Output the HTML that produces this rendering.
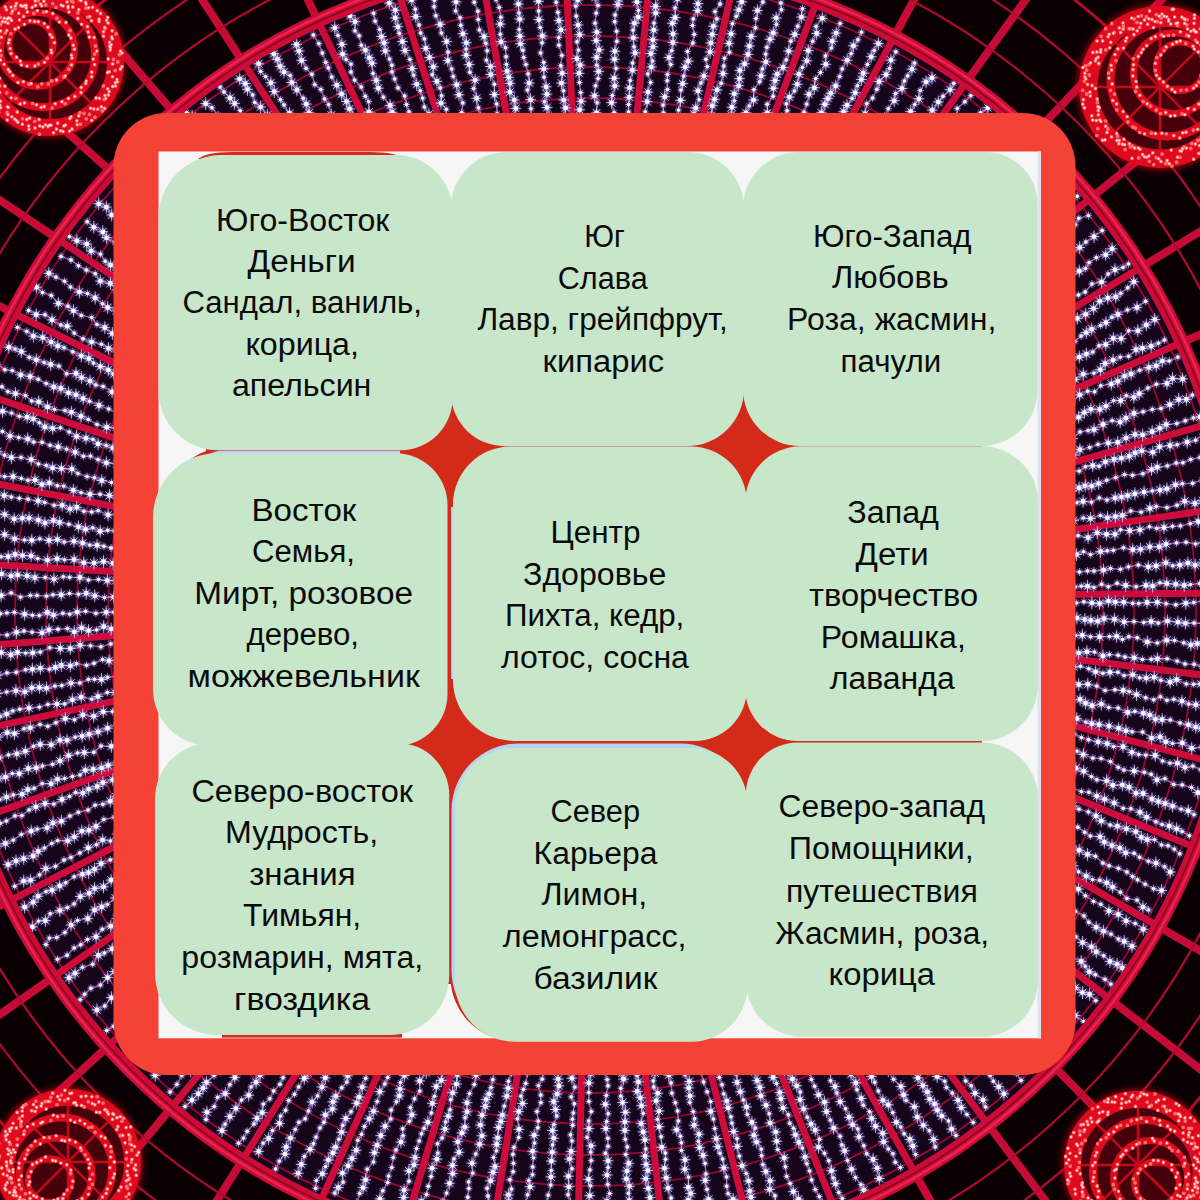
<!DOCTYPE html>
<html lang="ru"><head><meta charset="utf-8"><title>Ароматы по сторонам света</title>
<style>html,body{margin:0;padding:0;background:#08000a;width:1200px;height:1200px;overflow:hidden}svg{display:block}text{font-family:"Liberation Sans",sans-serif;font-size:31px;fill:#0a0a0a}</style></head><body>
<svg width="1200" height="1200" viewBox="0 0 1200 1200">
<defs>
<filter id="g4" x="-5%" y="-5%" width="110%" height="110%"><feGaussianBlur stdDeviation="3"/></filter>
<clipPath id="disc"><circle cx="590" cy="611" r="650"/></clipPath>
<radialGradient id="halo"><stop offset="0" stop-color="#d4d2ff" stop-opacity=".85"/><stop offset=".4" stop-color="#9088f0" stop-opacity=".38"/><stop offset="1" stop-color="#6a58d8" stop-opacity="0"/></radialGradient>
<marker id="sp" markerUnits="userSpaceOnUse" markerWidth="20" markerHeight="20" refX="10" refY="10" viewBox="0 0 20 20" overflow="visible"><circle cx="10" cy="10" r="6.5" fill="url(#halo)"/><path d="M10 3.5v13M4.5 10h11M6 6l8 8M14 6l-8 8" stroke="#dcdaff" stroke-width=".9" stroke-opacity=".8"/><circle cx="10" cy="10" r="2.3" fill="#fff"/></marker>
<marker id="sq" markerUnits="userSpaceOnUse" markerWidth="20" markerHeight="20" refX="10" refY="10" viewBox="0 0 20 20" overflow="visible"><circle cx="10" cy="10" r="4.6" fill="url(#halo)"/><path d="M10 6v8M6.5 10h7M7.4 7.4l5.2 5.2M12.6 7.4l-5.2 5.2" stroke="#d6d4ff" stroke-width=".8" stroke-opacity=".7"/><circle cx="10" cy="10" r="1.7" fill="#fbf8ff"/></marker>
</defs>
<rect width="1200" height="1200" fill="#0a0004"/>
<path d="M1153 593.6L1583 589.5M1147.3 519L1572.9 457.6M1131.7 445.9L1545.3 328.3M1106.4 375.4L1500.7 203.8M1072.1 309L1439.9 86.3M1029.1 247.7L1364 -22M978.4 192.7L1274.4 -119.2M920.8 145L1172.6 -203.6M857.4 105.3L1060.4 -273.7M789.2 74.5L939.9 -328.2M717.6 53L813.2 -366.2M643.7 41.3L682.6 -386.9M568.9 39.5L550.4 -390.1M494.6 47.7L419 -375.6M422 65.8L290.6 -343.7M352.4 93.3L167.7 -295M287.2 129.9L52.3 -230.3M227.4 174.8L-53.4 -150.8M174.1 227.4L-147.6 -58M128.3 286.5L-228.5 46.6M90.8 351.2L-294.8 161M62.2 420.4L-345.3 283.2M43.2 492.7L-379 411.1M33.9 567L-395.4 542.4M34.6 641.8L-394.1 674.6M45.3 715.8L-375.2 805.5M65.8 787.8L-339.1 932.7M95.6 856.4L-286.3 1054M134.4 920.3L-217.8 1167.1M181.3 978.6L-134.8 1270.1M235.6 1030.1L-38.9 1361.1M296.2 1073.9L68.3 1438.5M362.2 1109.2L184.9 1501M432.2 1135.4L308.8 1547.3M505.2 1152.1L437.7 1576.7M579.7 1158.8L569.4 1588.7M654.4 1155.6L701.5 1583M728 1142.5L831.7 1559.8M799.3 1119.6L957.7 1519.4M866.8 1087.5L1077.1 1462.6M929.5 1046.6L1187.9 1390.3M986.2 997.8L1288 1304M1035.8 941.8L1375.8 1205.1M1077.5 879.7L1449.6 1095.3M1110.6 812.7L1508.1 976.7M1134.5 741.8L1550.3 851.4M1148.7 668.3L1575.4 721.5" stroke="#c60c36" stroke-width="8" fill="none"/>
<circle cx="590" cy="611" r="690" fill="none" stroke="#b00a2e" stroke-width="2.2"/>
<circle cx="590" cy="611" r="732" fill="none" stroke="#b00a2e" stroke-width="2.2"/>
<circle cx="590" cy="611" r="780" fill="none" stroke="#b00a2e" stroke-width="3"/>
<circle cx="590" cy="611" r="650" fill="#15041a"/>
<g clip-path="url(#disc)">
<circle cx="590" cy="611" r="482" fill="none" stroke="#98082e" stroke-width="1.8"/>
<circle cx="590" cy="611" r="513" fill="none" stroke="#98082e" stroke-width="1.8"/>
<circle cx="590" cy="611" r="544" fill="none" stroke="#98082e" stroke-width="1.8"/>
<circle cx="590" cy="611" r="575" fill="none" stroke="#98082e" stroke-width="1.8"/>
<circle cx="590" cy="611" r="606" fill="none" stroke="#98082e" stroke-width="1.8"/>
<circle cx="590" cy="611" r="637" fill="none" stroke="#98082e" stroke-width="1.8"/>
<path d="M1033 594.8L1273 592.5M1028.5 536.2L1266 501.9M1016.2 478.7L1247.1 413.1M996.4 423.3L1216.5 327.5M969.4 371.1L1174.7 246.9M935.7 323L1122.6 172.5M895.8 279.8L1061 105.7M850.6 242.3L991.1 47.7M800.7 211.1L914.1 -0.4M747.2 186.9L831.3 -37.9M690.9 170L744.3 -64M632.8 160.8L654.6 -78.2M574.1 159.4L563.8 -80.4M515.7 165.9L473.5 -70.4M458.6 180L385.3 -48.5M404 201.7L300.9 -15M352.7 230.4L221.6 29.4M305.7 265.7L149 84M263.9 307L84.3 147.7M227.9 353.5L28.7 219.6M198.4 404.3L-16.8 298.2M176 458.7L-51.5 382.1M161 515.5L-74.6 470M153.7 573.8L-85.9 560.1M154.3 632.6L-85 650.9M162.7 690.8L-72 740.8M178.8 747.3L-47.2 828.2M202.2 801.2L-10.9 911.5M232.7 851.5L36.1 989.2M269.5 897.3L93.1 1060M312.2 937.7L159 1122.5M359.8 972.1L232.6 1175.7M411.6 999.9L312.7 1218.5M466.7 1020.5L397.8 1250.4M524 1033.6L486.3 1270.6M582.5 1038.9L576.8 1278.8M641.2 1036.3L667.6 1274.9M699.1 1026L757 1258.9M755.1 1008.1L843.5 1231.2M808.2 982.8L925.5 1192.2M857.4 950.7L1001.6 1142.6M901.9 912.3L1070.4 1083.2M940.9 868.4L1130.7 1015.3M973.7 819.6L1181.4 939.9M999.7 766.9L1221.6 858.4M1018.5 711.2L1250.5 772.3M1029.6 653.5L1267.8 683.2" stroke="#cc0c3a" stroke-width="7" fill="none"/>
<path d="M1075.1 586.9L1081.3 586.1L1087.5 586.3L1093.9 587.6L1101.7 584.2L1108.3 586.7L1117.1 583.2L1125.7 585.4L1136.1 586.7L1146 585.4L1152.6 586L1159.9 582.7L1166.8 583.5L1175.7 584.2L1184.2 585.4L1190.4 584.6L1199.5 583.4L1206.9 582.5M1070.4 571L1079.5 572L1087.5 570.9L1094 571L1103.5 570.1L1110.5 568.5L1120.5 569.3L1128.4 566.8L1138.3 565L1148.3 566.8L1156.1 565.9L1165.9 562.7L1172.8 565.8L1179.8 565.1L1187.9 563L1195.2 565.2L1203 563.1M1070.2 556.2L1076.5 554.5L1083.5 551.7L1090.5 554.6L1100.6 551.5L1107.2 550.8L1113.3 550.3L1123.5 547.8L1132.8 549.6L1140.5 549.3L1149.8 546.8L1159.3 546.8L1166.1 544.1L1176.5 542.9L1186.1 542.2L1195.6 543.9L1203.8 542.6M1071.9 539.7L1078.1 535.5L1088.1 537.6L1097.3 532.7L1106.5 534.3L1115 534.2L1120.6 529.8L1129.7 530.6L1139.9 529.7L1149.5 526.7L1156.7 528.4L1164 527.5L1172.5 526.3L1180.4 525.9L1190.3 523.6L1198.2 521.6L1208.3 521.1M1073.5 520.6L1083.2 517.9L1090.5 518.5L1100.4 515.6L1107.5 517.7L1115.4 516.6L1122.4 515.5L1130.8 511L1141.1 512.1L1149.9 508.4L1156.3 506.4L1167 507.6L1177 505.2L1184.7 501.3L1194.9 503.4L1202.5 500.6M1070.7 504.1L1077 502.6L1083.1 501.4L1091.5 502.1L1099.3 497.9L1107 500L1115.2 497.9L1121.6 497L1127.7 495.6L1134.9 493.7L1144.1 492L1152.3 490.9L1159.9 490.1L1166.9 488.8L1175.5 484.7L1182.3 483.7L1192.6 483.3L1201.9 480L1209.6 476.7M1073 488.2L1079.1 487.9L1085.2 485.8L1091.6 486.1L1098.6 483.5L1106.7 480.3L1115.7 477.6L1124.5 474.6L1132.6 475.2L1142.9 473.7L1151.5 469.5L1157.3 467.2L1167.3 465.9L1176.2 463L1182.9 462.7L1190.7 459.5L1200 457.4L1208.4 455.2M1072.5 470.7L1079.2 471.1L1085.4 466.8L1092.7 465.6L1099.1 466.2L1105.4 461.8L1114.2 459.4L1121.5 458.2L1129.3 456.3L1135.2 452.8L1141.7 450.7L1152.7 452.2L1159.6 446.7L1170 445.6L1177.2 444.7L1187.2 442.1L1195.6 440.2L1202.7 434.6M1073.6 455.1L1079.9 449.6L1089.7 447.4L1098 444.4L1108.3 442.9L1117.7 442.4L1126.1 438L1134.9 434.5L1142.6 434.9L1152.2 431.6L1159.7 428.3L1166.3 424.5L1176.8 423.5L1185.3 420.8L1193.4 417.9L1200.1 416.9M1072.5 438.5L1080 431.9L1088.1 430.6L1094.1 429.5L1103.1 424.4L1112.2 420.6L1120.2 421.9L1126 418.1L1134 413.4L1143.1 411.7L1152.3 409.4L1161 408.4L1169.7 404.6L1178.7 399.6L1186.4 399.4L1192.5 395M1069.4 420.3L1078.6 417.2L1084.4 412.5L1090.9 409.2L1099.8 409.4L1106 406L1113.6 400.6L1120.7 400.6L1126.3 395.7L1133.9 397.2L1139.3 393.6L1147.9 388L1156.4 384.2L1167 383.4L1172.5 378.5L1182.6 378.9M1072.4 402.1L1079.6 394.8L1087.7 391.2L1094.6 391.8L1100.8 385.7L1111.3 384.1L1117.8 381.2L1124.6 376L1131.1 373.9L1139.7 370.2L1148.8 367.5L1156.2 365.8L1162.4 361L1169.3 360.9L1177.9 357.1M1068.3 380.2L1075.1 379.5L1083.3 374.1L1093.9 373.1L1100.4 369.7L1105.1 363.5L1113.1 360.1L1120.2 357.1L1128.6 356.2L1136 349.6L1142.5 348.3L1151.2 346.2L1158.3 343.3L1164.4 340M1073 358.7L1079.3 357L1086.4 354L1092.8 351.9L1099 345.7L1105.7 344.5L1113.4 338.4L1121.2 338.6L1128.7 330.7L1137.8 330.7L1146.3 324.9L1154.8 319.5M1067.9 345L1074.9 341.4L1081.1 336L1086.3 332.5L1091.7 329.1L1100.5 325.5L1106 322.6L1111.9 317.2L1117.9 314.4L1127.4 309.9L1137 307.4L1145.6 301.3M1069.1 320.2L1077.3 318.4L1085.7 314.2L1093.6 308.5L1099.7 301.3L1107.8 298.1L1115.7 296.9L1120.7 293.3L1127.7 287.8L1133.8 281.8M1071.4 296.7L1078.4 295L1085.2 292L1091.9 284L1101.6 282L1108.1 274L1115 269.7L1123 267.4L1128.5 263.9M1071.5 277.6L1079.3 271.1L1085.6 268.5L1089.1 262.6L1096.4 257.6L1105.7 254.7L1112.1 248.8M1071.1 252L1079.7 247.5L1085.9 242L1094 236.6L1102.2 230.5M1069.4 228.2L1075.2 224.7L1078.8 218.3L1088.5 215.6M1069.1 201.4L1077.2 196.2M974.6 120.4L980.5 112.8L987.9 107.7M956.9 115.9L957.2 108.4L964.9 101.8L970.8 95.6M931 117.4L932.3 110.2L938.4 102L943 96.2L950.1 89.7L953.8 83.2M903.1 117.5L910.6 111.6L914.7 104.6L918.9 98.8L920.2 90.5L926.1 81.8L932 77.9M884.8 118.4L888.3 108.7L894.2 100.7L895.6 93.5L902 88.5L904.4 80.9L907.7 75.9L911.9 69.1L914.5 63M865.1 113.8L866.8 103.7L872.6 98L876.9 89.3L879.1 81.6L886.1 74.6L889.5 68.4L890.9 60.1L895.9 51.8M838.5 120.7L843.6 111.7L847 105.3L852.1 98.5L855.2 92.7L857.5 85.7L861.4 79.5L863.2 73.2L867.4 64.4L871.2 56.7L874.1 50.4L878.4 43.6M818.1 120.2L821.4 112.8L824.8 104.3L827.8 98.4L830.8 93.2L835.6 85.9L839.7 76.4L842.2 68.9L847.2 60.2L851.1 53.6L853.4 45.8L857.9 39.8L861.5 32.1M802.1 119.8L804 112.2L806.7 104.1L809 94.3L814.4 87.7L815.7 78.6L820.5 72.5L825.8 64.3L825.5 56L831.3 47.9L832.3 41.3L836.2 33.1L840.1 23.4M781.3 118.8L787.1 110.7L786.4 103.9L789.4 97.1L794.4 90.9L797.3 84.3L799 74.2L802.4 67.4L806.8 60.8L808.3 50.6L812.7 41.3L816.7 33.4L816.1 26.5L822.3 18.3M767.4 112.9L767.2 104.3L773.2 96.2L773.4 88.2L775 80.6L777.3 74.1L783.1 67.4L786.2 59.9L788.7 51.1L790.8 41.2L794.7 34.4L797.8 26.3L801.5 17L802.5 8.6M744.5 119.8L746 112.8L749.2 105.9L753.5 100L753.9 89.6L759.6 81.7L761 75.7L762.5 68.9L765.9 61.9L765.7 54.1L766.9 47.3L770 39.3L773.3 32.9L776.4 24.4L776.2 18L781.4 9.7L780.9 3M731.3 115L731.9 107.2L734.2 100.7L734.3 93.8L738.7 85.7L739.5 78.6L739.9 70.4L744.6 63.8L748 54.4L749.5 46L751.2 36.4L755.4 27.8L756 18.6L757.5 10.6L762.9 2L763.8 -5.3M711.2 115.5L712.3 105.7L714.6 99.3L717.1 89.9L721.2 83.2L723 73.6L723.8 66L724.4 58.2L729.5 52.2L729 43.3L731 33.8L732.4 23.7L736.3 16.2L738.7 9.9L741.7 1.8L743.5 -7.1M693.8 114L695.7 107.9L699.1 99.7L698 90.8L701 83L703.9 76.1L707.3 66.6L705.9 59.3L710.1 52L710.7 43L712.3 34.5L713.4 26.2L716.9 19L715 11.6L720.1 4L721.5 -5.8M677.6 120.1L678.5 110.1L680.5 100.3L680.9 90.1L682.6 83.6L683.8 76.1L685.1 67.2L688.2 61.1L687.4 51.5L692.9 43L694.2 34.4L692.6 25.5L693.2 19L697.6 10.6L698 3.7L699.1 -6M660.7 118.7L663.4 112.9L663.1 105.1L664.7 96.7L667.4 89.4L667.2 80.7L667.5 74.6L670.8 64.5L669 57.5L671.7 50.6L672.9 42.4L673 33.8L672.4 23.3L675.2 17.5L675.1 7.9L677.5 -1.3L679.9 -9.9M646.6 118.9L645.2 111.9L647.2 101.6L648 92.1L650.6 82.4L647.8 73.9L651.4 67L652.5 61L650.9 53.6L653 46.8L652.8 39.8L653.7 30L654 23.1L655.7 12.9L655.5 6.4L658.6 -3.2L660 -9.7M628.2 120.9L628.6 112L628.6 104.5L629.2 97.3L629.6 87.9L630.2 80.5L632.4 70.3L632.6 63L635.1 52.9L634 46.8L633.4 37.8L633 30.1L634.5 23.2L638.2 17L638.5 10.4L637 2L635.8 -4.9M614.2 112.6L611.5 102.6L612.3 95.5L614.8 85.9L614.2 78.3L616 68.4L614.5 59.2L614.9 51.2L616.9 41.3L616.6 31.3L614.8 21.7L615.1 14.9L618 4.5L619.1 -1.5M598.1 120.5L596.5 112.9L597.2 102.8L594.5 95.8L595.6 85.8L598.1 78.6L598.6 71.4L596.8 65.2L596.6 57.4L599.1 49.8L596.3 40.6L596.8 32.2L595 23.1L596.2 13.1L598 5.4L595.2 -2.5M579.5 117.2L579.6 109.8L581.1 101.3L580.7 92.6L579.5 82.5L579.1 73.3L580.2 65.1L576.9 58.5L578.4 50.1L577 41.8L579.6 34.6L578.1 25L576.2 16.1L575.8 6.1L577.8 -0.1L575.6 -9.8M563.6 115.7L565.6 107.9L563.7 100L563.5 90.8L561.5 83.1L562.2 73.3L560.8 65.7L561.9 55.4L558.9 45.2L558.7 37.6L560.9 29.9L558.9 20.6L557.9 12.3L556.2 2.3L556.5 -3.8M549.3 114.8L547 107.5L544.4 101.7L546.9 94.2L546.2 86.8L544 77.1L543.8 68.8L543.7 62.5L540.6 52.9L542.1 42.8L542.4 35.9L540.2 27.6L538.9 19.6L538.7 11L538.5 1.3L536 -8.6M530.7 119.1L531 108.7L530.5 99.7L527.4 90L529.3 83L528.2 73.9L525.9 64.4L523.7 57.5L522.9 50.2L520.5 43.7L519.9 36.3L519.2 29.6L519.7 19.1L519 13L518.5 4.1L518 -4.4M513.8 116.1L515.7 108.4L514.3 100L509.9 92.1L510 83.3L508.7 77.3L507.1 71L506.4 64.4L506.1 56.8L505.5 47.8L501.1 41.7L500.3 34.2L500.3 24.1L500.9 17.3L499.2 7.5L496.1 -0.4L495.4 -6.9M497.1 113.7L496.7 103.9L494.4 94.5L494.4 84.2L490.7 74.5L490.6 66.5L486.4 60.1L487.2 50.7L485.8 43.3L484.1 36.6L479.4 29.9L478.2 19.5L477.9 11.2L474.3 2.2L473.7 -7.2M480.4 115.3L478.3 107.8L476.6 98.3L473.7 88.5L475.1 80.1L469.9 72.2L469.2 64.6L466.2 55.3L466.1 49.1L466.4 42.8L462.9 33.7L460.8 25.3L460.1 17.7L455.7 10.9L456.1 1.8L454.8 -4.4M461.7 112.6L462.8 102.9L459 94.8L456.7 84.8L453.2 76.4L451.7 68.9L447.8 60.6L448 52L446.6 41.6L441.4 32.9L440.2 24.4L435.9 15.8L434.1 6.7L434.4 0.3L430 -5.4M446 120.1L446.3 109.3L441 103.1L441.6 95.8L440.2 87.9L436.9 81.4L432.3 74.7L433.4 66.8L429.5 57.5L425.8 48.4L424.4 38.9L420.7 33L419.1 25L415.7 16.6L415.3 9.2L411.6 -0.3M431.2 120L428.9 114.2L424.4 107L422.7 98.1L420.2 90.7L416.7 84.2L413.7 75.1L412.2 68.6L409.9 59.4L405 50.5L402.4 41.5L399.3 33.2L397.9 26.7L395.3 17.9L395.3 10.2L389.3 3.1M412.1 120.7L409 112L406.5 104.5L404.7 96L398 87.9L394.7 78.9L392 71.9L391.9 65.2L389.6 59L385.4 50.9L384.1 42.8L381.4 36.5L379.7 29.4L375.1 21.1L373.6 13.2M393.8 120.5L392.1 112.3L390.1 105.4L383.4 97.2L378.4 88.2L376.3 80.4L373 73.4L372 63.2L369.4 57.8L365.4 50.1L361.3 45.3L359.1 35.8L355 30.8L355.1 21.7L350 15.7M375.3 116.2L368.9 112.1L368.7 101.6L365.3 96.3L361.2 87L354.6 80.1L351 72L351 64.1L346.1 59.6L342.6 54.1L341.9 44.3L338 35.5L334.8 27.9M352.8 117L349.6 108.9L346.5 101.5L341.6 94.1L336.8 85.2L331.8 77L328.3 67.9L325.7 62.3L322.3 53L318.9 43.6L313.3 34.9M331.3 115L328.7 104.6L324.6 98.9L320.9 89.5L314.8 84.6L311.9 74.3L306.1 68.3L301.6 60.4L299.1 51.1L296.5 44.4M315.4 119.6L309.2 112.8L306.3 104.1L303.2 98.2L296.9 89.8L291.7 82.5L290.1 75.4L284 71.9L280.3 66.4L277.4 59.3L273.8 53.7M291.9 120.1L289.5 113.3L284 105L280.5 99.7L274.3 91.6L270.8 82.8L265.6 76.6L260.7 71.5L258.6 63.8M267.4 115.1L260.6 107L254.8 102.4L252.7 94.9L247.5 89.3L245.2 83.5L239.7 79M242.7 119.3L240.2 110.6L234.6 103.4L230 97.9L224 92L220.1 87M218 115L211.9 107.8L205.7 103.6M192.1 116.1L186.6 112.4M118.5 216.5L111.7 215L106.4 207.1L98.7 203.7M114.8 242.3L106.6 237.7L102.8 231.7L93.8 227.3L87.2 221.7M117.3 269.9L110.5 264.9L105.2 261.3L100.5 254.1L91.2 251.1L86.7 244L76.9 240.7L69.2 236.5M117.1 289.8L110.4 283.4L100.4 281.1L95.3 273.7L86.3 270L78.4 265.7L71 260L61 256.4M116.5 310.9L107.7 307.6L102.5 303.7L95.2 297.9L87.4 293.5L79.4 292L70.5 287L64.6 281.3L56 277.1L48.8 273.3M120.2 337.5L112.4 333.5L104.8 327.6L97 324.4L91.7 317.6L81.3 315.4L73.5 310.7L68 306.2L58.4 303.4L51.3 295.4L42.5 292.5L36.5 287.2M120.1 358.2L116.5 351.5L108.5 348.4L101.4 344.3L91.6 342L83 338.8L74.2 333.1L67.3 326.2L60.9 325L52 319.8L45 314.7L36.2 314.6L28.6 310.4M113.8 374L108.3 369.9L100.4 366.5L93.4 363L88.8 358.5L81.3 355.8L72.8 351.8L64 347.7L57.8 345.9L51.1 342L42.7 337.5L33.4 336.1L26.8 331.4L17.4 327.4M118.8 392.5L112.1 391.9L103.1 386.4L95.9 384.9L90 381L81.6 377.5L76 373.4L66.7 373.7L58.9 366.1L50.7 364.4L44.1 362.4L36.3 359.7L29.3 357.3L21.3 351.6L15.1 349L8.8 347.2M117.6 413.4L108.7 408.9L99 405.4L89.6 401.3L83.2 398.6L75.9 394.8L68.5 392.7L60.9 388.4L53.7 386.9L46.2 383.5L38.2 379.3L30.2 376.6L20.7 374.9L12.2 370.6L4.9 369.7L-2 364.4M115 428.1L106.7 427.2L97 424.4L88.3 419.4L81 416.3L71.4 412.3L65 410.4L54.6 409.4L47.5 406.9L38.7 401.8L31.7 400.9L25.5 395.6L15.5 393.6L7.9 391.6L2 386.8L-5.8 385.7M113 447.8L106.2 445.5L98.1 443.9L93 439.4L86 438.3L76.6 436.4L69.2 431.9L60.4 427.8L52.7 428.3L44.8 426.9L39.4 422.8L33.3 418.7L27.1 417.1L19.4 416.3L11.6 413.1L2.6 411.3L-6.8 406.7M116.9 463.7L106.4 462.8L98 459.6L90.5 456.1L83.4 456.2L75.1 452.1L66.7 449.1L58.2 446.9L50.1 445.3L42.1 442.2L33.7 442L27.7 438.9L18.7 437.5L10 436.1L2.4 431.4L-6 431.8M111.5 482.5L101.8 480.5L94.3 477.7L87.1 476.6L77.9 473.4L71.8 469L61.4 468.6L52.6 467.8L46.3 465.5L38.4 463.9L31.2 459.5L21.1 457.4L11.4 457.5L4.6 455.2L-2.4 451.4L-10 452.8M117.7 499.3L109.5 495.5L100.1 494.2L90 494.3L81.1 492.6L73.4 490.3L63.8 486.1L57.3 485.7L49.4 482.9L41.9 484.5L35 479.9L27.9 480.3L21.3 478.4L13.1 476.6L4.7 476.6L-1.4 475.7L-7.3 470.5M117.6 513.6L108.1 514.9L98.2 510.6L91.7 511.9L83.9 511.3L76.7 507.3L70 508.9L62.2 505.3L54.1 505.3L44.7 502.4L38.1 500.9L28.2 499.2L19.3 498.3L11.3 497L4.3 495.6L-5.1 491.9M114.3 530.8L107.7 530.3L100.2 531.2L92.8 527.8L85.6 529.2L78.4 526.7L68.9 524.2L59.6 522.4L53.4 520.5L44.9 523L38.3 520.1L29.1 518.1L22.3 518.2L14.2 518.9L4.7 514.5L-3.8 514L-9.9 513.3M119.6 548.8L111 548L103.9 546.3L97.1 545.3L89.8 545.1L82.7 543L73.9 541.2L64.2 542L57.4 539.6L48.9 540.4L39.8 538.8L31.8 540.2L24.5 539.9L14.6 538.8L4.7 534.5L-5.1 535M113.2 563.3L103.5 561.6L94 563L83.8 562.7L74.1 559.5L64.5 559.7L57.1 558.7L47.4 560.1L37.7 558.6L31.1 555.8L22.5 555.5L15.1 554.4L8.2 556.6L1.2 556.7L-6.3 556.1M115.9 580.6L107.3 580.5L98.5 579.4L88.4 579.9L79.9 577.4L69.7 577.2L63.3 576.8L54 579L45.2 577.5L34.9 577.6L27 575.9L17.6 574.9L11.1 575.9L1.5 573.9L-7.7 576.4M113.7 597.1L104.5 597.6L94.8 595.8L86.2 593.3L78.4 594.3L69.6 593.4L61.2 594.7L53 594.7L46.5 596.1L36.9 595.5L30.4 595.4L20.5 597.1L11.1 592.9L1.1 595.5L-6.1 596.6M113.6 612.1L106.2 612.2L95.9 613.3L85.6 611.2L77.3 612.1L69.8 614.1L62.9 613.2L53.5 615.1L47.3 612.4L39.2 615.5L32.5 615.3L24.6 614.2L14.4 612.3L6.9 612.9L0.4 613.7L-8.8 615.2M120.5 625.6L111.2 629L103.7 626.5L96.6 629.9L88.5 630.6L81.6 627.8L74.3 631.7L67.4 628.6L58 629.2L49 629.7L42 632.7L32.1 632.1L24 631L16.5 632.3L7.1 635L-2.5 634.8M118.7 642.4L110.8 643.9L100.9 646.8L90.6 645.8L80.2 645.3L70.3 648.5L60.3 648.4L49.8 647.7L40.3 652L32.7 652.8L25.7 653.1L17.5 652.4L10.8 654.7L1.3 652.5L-9 654M117.3 659.3L109 660.7L102.6 659.5L94 663.3L86.5 665.3L76.5 663.8L70.4 665.7L61.4 665.4L55.4 667.4L49.4 669.2L40.4 668.3L32.4 669.2L25.6 669.8L16.2 672.2L7 672.9L-2.4 675.2M116.8 676.1L107.4 677.3L101.5 679.5L94.4 679.3L88.4 679.4L79.8 683L70.9 683L61.8 685.5L54.9 686L46.5 688.2L39.4 687.5L31.8 687.8L24.8 691.7L15.9 690.7L6.7 691.9L-2.6 693.5L-8.9 695M114.9 692.5L107.3 692.5L97.9 696.5L91.8 699.1L81.2 697.1L72.4 699.8L64.7 704L57 704L47.9 704.4L39.4 707.1L29 708.1L19.8 709.2L12.8 710.9L6.6 714L0.2 716.4L-6.3 716.9M118.4 708.5L112.6 711.5L103.3 711.7L93.7 716.3L82.8 714.9L74.5 719.7L65.3 718.6L55.9 722.7L47.8 726.3L40 724.5L30.3 727.8L24.1 728.7L14.5 733.6L7.2 732.6L-2.1 737.1M116.8 723.7L107.5 728.2L98.1 731.7L89.2 734.3L82.1 736.1L75.2 737.1L67 740.3L60 740.2L51.2 744.7L40.3 744.4L33.6 746.2L25.4 751.3L16.8 753.7L8.5 754.9L-1.2 757.9L-9.9 760M119.8 740.9L111.4 746.3L101 746L93.8 752.2L84.4 752.6L77.5 752.9L68.6 755.6L60.1 760.9L52.6 764.2L42.5 766L36.3 767.8L28.3 768.6L19.2 773.6L12.3 773.4L5.5 777L-1.8 778.6M115.7 762.8L108.2 765.4L101.6 768L93.2 769.4L85.3 770.2L80 774.9L72.5 776.5L64.6 778.4L57.5 779.2L51.1 783.7L42.2 783.6L34.1 788.3L27.8 789.6L22.1 794.2L13.3 794.9L6.5 797L-0.3 799.6L-8.7 804.5M119 777L112.8 779.7L102.9 782.6L97.2 786.5L88.7 789.2L82.8 793.1L75.7 792.5L69.6 796.4L62 799.4L53.9 804.1L45 803.5L35.8 806.8L29.1 809.9L21.9 815.6L15 815.9L6.4 821L0.3 823.3L-9.1 825.5M115.7 796.7L110.3 801.2L102.9 804.2L95.1 805.1L88.1 810L78.3 812.3L69.9 816L61.4 821.2L52.9 822.9L47.1 827.8L37.2 829.1L31.2 831.1L21.3 834.4L13.3 840.1L5.4 843.4L-1.8 846.5M114.2 817.2L103.8 819.4L96 826.4L88.8 830.3L81.8 831.1L74.3 836.8L67.6 840.7L57.7 840.6L51.8 843.4L44.5 848L38.2 851.4L33.2 855.9L23.7 858.6L16 860.9L8.1 864.6M117.3 834L110.4 841L102.6 840L96.5 844.7L88.3 847.7L79.9 852.9L70.9 857.4L64 860L55.5 866.3L45.8 868.5L39.5 874.9L30.6 880.3L23.7 881L14.6 886.3M119.1 856.7L110.3 859.9L101.1 863.6L94.5 869.3L88.5 872.6L82.4 874.3L74.1 876.8L65.7 882.8L59.7 885.9L52.1 890.1L46.1 891.6L38.1 896.2L33.2 902.2L24.6 907.1M117.3 874.6L111.1 880.1L103.5 886.8L94.6 888.5L89.2 893.2L80.3 896.5L74.1 903.9L67.3 907.6L59.8 910.5L50.2 913.8L45.4 920.6L38.5 921.1L32.4 926.9M115.3 898L107.3 904.4L101.7 906.9L94.6 909.9L87.8 918.6L77.5 920.4L71.1 925L64.9 932.5L56.7 937.5L49.4 938.1L45.9 944.6M116.8 918.6L110.8 926.2L102.2 929.2L96.1 936.7L87.4 939.4L80.7 944.8L74.1 947.9L67.1 955.2L57.5 959.3M119.5 943.4L112.2 948.7L104.4 953L98.4 955.4L92.7 964.2L82.5 967.3L75.1 973.2L69 977.7M114.6 971.5L107.6 977.5L100.4 985L90.9 988.2L84.7 994.2L80.1 999.7M119.4 995.6L111.4 997.7L104.9 1006L96.9 1009.9M120.2 1020.6L113.6 1026.2L106.7 1030.5M159.7 1071.3L155.2 1075.3M190.7 1070.8L181.8 1075.6L176.9 1084.4L170.1 1092M215.7 1068.9L214 1075.5L206.5 1082.4L203 1088.2L198.3 1093.7L192 1100.1L185 1106.5M240.2 1071.8L234.8 1077.4L229.9 1084.7L225.3 1093.6L217.7 1097.3L214.2 1106.6L206.9 1112.2L206 1119.5M260.1 1074.9L256.1 1082.3L251.1 1086.9L248.7 1095.3L241.5 1100L235.9 1108.5L229.9 1116.5L225.1 1124.1L222 1130.6M286.4 1069L283 1077.7L280 1084.2L273.7 1090.9L269.8 1098.8L263.3 1104.1L262.3 1112.6L257 1118.3L254 1124L247.2 1131.3L243.5 1138.1L238.5 1143.3M307.8 1072.8L304.3 1078.4L298.7 1086.9L294.5 1094.3L288.8 1100.5L285.6 1110.3L280.6 1116.1L279.5 1123.4L272.4 1130.6L268.6 1138.4L263.1 1143.1L258.7 1151.4M332.8 1070.2L325.3 1077.8L321.9 1087L317.6 1095.9L312.1 1102L308.5 1110.9L305.2 1118.8L298.9 1122.3L295.3 1129.5L290.5 1138.1L286.2 1147.1L285 1154L279.3 1161.1L275.6 1169M351.3 1067.6L347.7 1075.8L346.8 1082.1L341.8 1087.8L335.8 1096.3L332.9 1101.9L332.4 1109.1L325.4 1114.9L323.9 1122.3L320 1127.9L316 1137.1L313.4 1143.7L310.1 1149.3L304.3 1156.4L301.3 1164.4L298.2 1173.3M368.1 1070.5L365.7 1078.3L362.3 1087L359.2 1097L356.6 1103.3L351 1111.7L345.8 1118.5L342.8 1125.3L341.5 1132.3L338.9 1139.3L335.5 1147.2L332.8 1153L328.4 1160.1L325.6 1166.6L322.4 1173.7L316.4 1180.4L315.7 1188.2M390.4 1071.7L387.7 1077.4L384.8 1083.9L379.8 1091.6L377.2 1101.5L373.6 1111.3L369.3 1118.8L364.4 1126.5L361.6 1134.3L357.8 1140.2L356.3 1150.3L352 1158.4L348.2 1165.8L342.4 1173.1L343.1 1182.1L338.3 1187.6L334.9 1193M408.1 1069.8L404.4 1075.4L400.5 1082.6L400 1089.1L399.4 1095.9L396.4 1101.8L391.1 1110L390.8 1119L385.1 1126.2L380.8 1135.6L377.2 1145.3L374.4 1152.7L373.4 1161.9L367.2 1169.2L365.6 1179.8L363.1 1187.7L359.7 1193.4L356.9 1202.5M426.2 1072.6L419.7 1080.9L419.8 1091.1L414.5 1098.8L410.4 1107.6L411.9 1114.7L409.4 1121.2L402.7 1128.8L403 1135.7L400.9 1142L396 1149.9L393.2 1157.6L391.7 1167.5L388.6 1176.1L387.6 1182.4L382.8 1190.8L379.9 1198.9L376.9 1207.9M442.5 1070.4L441.3 1080.4L436.3 1086.6L434.5 1096.2L432.4 1103.4L431.4 1112.9L427.8 1122.3L424.1 1128.3L421.5 1133.8L419.2 1140.9L416.5 1148.6L415 1157.5L414 1164.7L408.9 1170.9L409 1181.2L404.1 1190.1L403.6 1197.5L402.7 1204.2M459.9 1068.9L457.2 1074.6L456.5 1084L452.6 1092.7L450.7 1099.7L450.1 1109.7L448.4 1116.2L445.6 1121.9L444.9 1129.1L442.1 1137.9L437.5 1143.8L437.9 1153.1L436.8 1159.1L432.1 1168.2L431.1 1176.5L428.3 1186.3L426.6 1194.5L421.2 1201.5M478.4 1068.3L475.9 1075L474.3 1084.4L469.6 1093.6L467 1102.7L467.1 1111.8L465.1 1117.8L464.8 1127.1L461.8 1132.9L457.8 1141.7L459 1152.3L454 1158.9L452.5 1165.4L452.7 1173.5L449.6 1183.3L446.6 1193.1L442.6 1201.4L440.9 1209.1M494.8 1070.4L492.8 1079.8L491.1 1087.4L489.2 1094L486.2 1099.6L485.4 1106.4L482.1 1115.2L480.4 1125L481.9 1135.8L479.6 1144.3L475.8 1154L472 1163.2L472.7 1173.1L468.6 1181.9L468.9 1188.5L467.8 1197.2L465.9 1203.8M511.6 1073.3L508.4 1081.3L508.2 1088.2L506.7 1096.2L504.3 1106.1L502.4 1115.1L500.9 1121.5L498.6 1127.5L497.6 1137.9L496.7 1144.4L496.4 1150.7L493.5 1157.4L495 1166.6L493 1172.4L490.6 1180.8L487.1 1188.2L488 1196L488.8 1203.8M527.5 1073.2L525.7 1083.4L523.4 1089.4L520.9 1096.1L522.5 1103.5L518.7 1111.6L517.4 1118.8L519 1129.3L518.7 1137.4L514 1147.3L512.9 1154.3L513.4 1163.3L513.1 1171.7L509.9 1179.7L511.4 1189L508.5 1194.9L508.7 1201.6L508 1209.5M543.7 1071.8L542.2 1079.1L538.4 1085.6L540.8 1095L540.9 1102.6L537 1111.5L538.2 1121.1L537.8 1127.7L534.2 1135.3L534.5 1143.1L532.6 1151.3L533.4 1157.7L532.7 1166.9L532.5 1174.7L528.7 1180.4L529.9 1186.7L527.6 1194.8L525.7 1203L529.2 1209.6M557.1 1071.2L558.1 1079.1L559 1085.8L557.3 1094L553.7 1101.6L555.5 1109.5L556.8 1116L553.9 1124.5L552.5 1130.5L553.7 1138.2L552.5 1144.9L552.3 1152.1L551.4 1161.1L551.2 1170.5L550.9 1176.9L550.7 1185.1L548.2 1195.1L546.9 1204.9M573.6 1069.4L571.9 1078.2L574.9 1087.1L571.2 1096.9L574.3 1103.8L573.3 1112.9L572.4 1119.2L572.7 1125.3L570.5 1134.8L572 1140.9L571.1 1151.4L569.5 1159L572 1168.7L568.4 1176.2L568.8 1186.7L568 1194.7L570.6 1204.1M590.7 1073.6L588.8 1082.9L588.9 1092.4L588.9 1101.4L591.3 1111.5L588.8 1121L588.9 1128.6L587.1 1137.3L591 1145.8L590.8 1152.1L591.2 1160.6L589.9 1169.9L588.5 1179.3L590.4 1185.8L589.7 1195.7L588.7 1202.7M604.7 1071.8L607.2 1079.6L608 1085.8L606.3 1095.4L605.4 1104.3L608.2 1113.7L606.7 1121.5L605.8 1128.5L607.8 1138.3L608 1146.3L605.4 1153.2L608.1 1160.7L608.1 1167.5L607.1 1175L607.8 1184.4L609.7 1193.6L606.8 1201.4M622.1 1072.8L623.6 1079.1L620.8 1088.3L620.8 1096.2L622.5 1102.5L625.5 1112.3L624.9 1121.7L624.8 1130.4L625.3 1139.3L627.3 1147L625.8 1154.5L628.8 1163.4L626.9 1171L626.4 1178.9L629.4 1186.3L628.4 1193.2L629.3 1200.5M637.7 1067.3L636.9 1075.6L638.4 1081.9L637.3 1091.5L640.4 1097.7L641.6 1105.7L643.2 1113.4L641.2 1123.6L643.2 1131.9L644.9 1139.8L645.8 1148.9L645.1 1156.1L646.2 1164.5L647.8 1170.5L645.7 1178.7L648.3 1188.4L650 1197.6L651.6 1206.3M654.9 1072.9L653.2 1080.9L653.8 1087L657.8 1093.2L656.2 1100.9L659 1111L657.4 1119.2L659.2 1126.7L661.1 1136.8L661.7 1147.2L665.3 1153L665.6 1159.3L664.5 1168.2L666.3 1177.8L668.2 1188.1L671.1 1198L671.1 1205.8M668.8 1075L671.1 1082.9L671.9 1093.1L675.3 1102.7L677.6 1111L678.3 1121L676.6 1129.8L680.4 1136.3L681.4 1142.8L681.5 1150.4L685 1159.7L684.8 1169.2L688.5 1177.1L688.4 1187.4L690.7 1193.5L688.3 1200.2L690.1 1209M685 1074.7L689.2 1081.5L688.7 1087.9L690.1 1096.1L689.8 1102.3L693.2 1111.6L694.6 1118.8L694.2 1125.2L699 1134.2L698.4 1141.3L699.6 1147.6L703.1 1155.4L705.1 1163.4L705.9 1174L705.2 1180.4L707 1189.3L708.6 1199.2L713.8 1204.5M701.2 1072.2L703.6 1082L707.1 1091.8L710.7 1101.6L710.7 1111.4L713.4 1119L714.8 1128.6L716.3 1138.5L717.8 1146.7L720 1153.2L722.6 1159L723.8 1167.7L726.6 1176.9L726.7 1186.2L728.1 1193.6L733.1 1199.3L733.5 1206M719.6 1067.7L719.3 1077.5L722 1084.8L723.8 1093.9L726.7 1101L728.2 1107.9L730.9 1116.8L731.9 1123.1L733.6 1131.5L737 1138.6L737.3 1146.4L739.4 1156.1L742.1 1165.8L746.2 1173.5L748.6 1181L749.8 1191L750.9 1197.2L755.2 1206.4M736.9 1067.4L736.2 1073.9L737.1 1082.4L740.4 1091.8L743.4 1099.9L746.5 1107L747.3 1114.4L751.9 1122.4L755.2 1128L753.9 1135.2L756.6 1142L761.2 1149.1L761.7 1155.7L762.9 1164.6L765.9 1171.6L770.2 1180.8L769.6 1189.5L774.9 1195.8L775.5 1204M755 1071.9L757.1 1080.6L759.9 1087.4L760.8 1095.9L766 1105.2L769.2 1113.7L770.2 1123L775.7 1132L776.7 1141.2L777.7 1149.6L784.2 1157.9L785.4 1166.7L786.7 1176.4L790.1 1183.5L793.4 1191.6L798.5 1199.1L797.7 1207.6M769.8 1069.9L773.2 1077.4L776.5 1083.5L779.8 1092.6L780.9 1098.7L783.1 1107.9L788.3 1114.8L789.8 1123.2L793.5 1128.3L795.5 1134.8L798.9 1142.4L802.3 1148.1L805.1 1157.1L806.9 1163.7L809.6 1170.9L811.6 1179.9L815.3 1189.5L819.3 1196.6L822.4 1202.6M788 1072.1L792.5 1079.1L796.7 1085.8L800.2 1092L800.1 1099.6L803.6 1108.7L807.3 1117.2L811.1 1124.1L815.3 1130.1L819.6 1139.3L818.5 1147.1L824.5 1153.2L828.7 1160.7L831.5 1170.8L833.2 1177.9L835.5 1183.7L838.8 1192.5L842.3 1198.4M809.5 1069.4L811.3 1079.4L814.6 1086.2L818.6 1094.7L824.5 1102.2L826.5 1111.6L830.3 1120.1L833.6 1128.1L840.1 1136.3L841.9 1144.9L844.6 1150.8L847.5 1160.6L851.5 1169.2L855.5 1177.6L861 1184.6L863.8 1190.1M830.4 1072.4L830.6 1080.7L835 1086.5L836.9 1093L840.2 1101.7L845.6 1108.8L849.1 1117.3L852.6 1124.7L857.8 1128.9L859 1136.8L863.8 1145.8L866.7 1153.8L873.1 1159.4L877.2 1168.2L879.3 1178.5M847.5 1067.9L851.1 1074.2L855.8 1082.8L857 1089.7L861.2 1098.5L863.4 1105.3L869.5 1111.6L871.6 1118.4L875.5 1126.3L882.7 1133.3L883.6 1141.7L888.3 1148.9L893 1153.8L895.3 1162.2L900.4 1167.5M865.1 1068.7L871.5 1076.4L874.7 1082.2L878.3 1091L882.9 1100.3L888.3 1104.8L892.8 1112.6L896.4 1122.3L900.8 1126.9L904.1 1133.8L909.9 1139.4L912.8 1146.1L915.6 1154.4M888.3 1070.8L893.6 1079.3L900.9 1086.5L903.6 1094.9L906.1 1100.4L914.4 1106.7L917.4 1117L923.4 1125.3L929.3 1130.7L933.6 1139.5L935.3 1147M911.6 1071.5L918 1077.9L922.9 1085.5L927.3 1091.9L929.8 1099.3L934.6 1103.9L937.4 1110.2L941.8 1116L948.5 1121L951.6 1129L956 1135.5M932.6 1069L937.2 1076.5L944.7 1081.2L946.4 1087.4L952.2 1093L957.9 1100.3L961.3 1107.6L966.9 1114.4L973.2 1122.5M955.6 1068.3L962.9 1071.5L965.7 1080.9L971.2 1085.8L975 1093.2L983 1099.9L985.6 1106.9M985.6 1068.8L990.1 1075.4L993.4 1081.2L998.6 1086.7L1003.9 1093.9M1016.4 1073.3L1021.1 1080.5M1068.8 1009.4L1075.2 1015.5L1083.5 1021.4M1067.8 982L1075.3 987.7L1082.5 992.5L1089.6 994.4L1095.8 1000.6M1071.6 957L1081.2 961.4L1085.2 966.3L1089.3 971.8L1095.4 974.7L1105 979.3L1110.9 984.1M1069.9 933.3L1075.8 936.7L1082.5 942.5L1091.5 946.8L1096.3 951.9L1103.7 955.8L1109.9 961.4L1117.1 964.3L1122.4 967.9M1075.3 911.3L1084 915.9L1088.8 922.2L1096.2 927.3L1103.5 931.2L1111 934.1L1118.3 939L1124.2 941.4L1132 946.3M1072.7 885.3L1078.4 889.1L1085.4 895.7L1093.5 901.4L1100.8 904.3L1108.9 910.9L1118.3 914.4L1126.1 920.9L1135.2 923.4L1143.3 929.2M1073.2 865.8L1078.5 871.8L1086.3 876.1L1092.5 879.6L1099.9 880.2L1106.7 882.8L1112.6 887.1L1120.4 892.2L1127 898.4L1137.1 900.1L1142.9 907L1148.6 909.9M1071.5 845.9L1079.2 850.3L1087.5 854.4L1095.4 856.3L1102.9 863L1109.1 865.8L1118.4 868.3L1126.9 872L1132.5 876.5L1137.6 879.8L1145.1 884.1L1153.6 888.7L1161.6 890.5M1070.3 825.3L1077.8 827.2L1084.7 832.2L1090.3 836L1100.1 836.7L1104.4 842.1L1112 845.5L1119.9 848.1L1125.7 852.7L1134.1 853.3L1139.6 857.2L1148.4 861.2L1155.9 863L1164.6 866.8L1170.3 872M1072.9 806L1079 809.1L1088.4 811.9L1096.1 815.9L1101.3 820.9L1110.2 825L1117.4 826.3L1126.4 828.7L1135.8 831.7L1141.3 837.3L1147.4 839.6L1154.5 839.6L1161.5 844.9L1168 845.7L1174.3 849.1L1179.8 853.8M1072.6 787.9L1081.4 791.6L1088.9 792.2L1096.8 796.1L1104.6 799.2L1114.2 802.9L1123.2 808.3L1130.9 808.8L1140 812.3L1146.6 817.2L1155.9 821.8L1162.1 824.4L1169.3 826.1L1176.6 828.7L1182.1 831.5L1189.4 835.7M1067.7 765.7L1075.8 768.2L1083.7 771.2L1091.4 776.6L1096.9 779.7L1106.7 780.7L1112.9 785.3L1122.4 785L1129.2 787.2L1136 793.2L1143.1 793.4L1152 798.9L1158.5 801.6L1165.2 803.5L1172.6 806.1L1181.1 809.1L1188.2 810.8L1194 814.6M1069.4 751.7L1077 751.1L1083.3 754.5L1092.9 758.1L1101.1 758.5L1110.4 761.6L1118.2 767.3L1123.9 770L1134.3 770.9L1144.3 772.2L1151.1 774.3L1156.9 779.8L1164.9 778.6L1173.8 784.4L1182.2 784.9L1191.5 787.5L1197.8 792.6M1074.2 734L1081.4 737.6L1088.6 739.8L1098.1 741.8L1107.2 743.6L1113.6 746.6L1123 746.6L1131.9 752.3L1138.7 754.5L1145.7 755.1L1155.2 755.4L1162.6 761L1170 763.1L1177.5 763.2L1185 767.2L1192.8 766.1L1200.9 769.7L1207.8 773M1068.3 713.7L1076.8 718.6L1085.9 722.1L1091.8 723.6L1099.2 724.6L1109 726.1L1118.6 728.3L1125.9 730.7L1132.1 731.7L1142.6 732L1151.6 738.1L1160.1 736.9L1165.8 741.8L1172.5 743.4L1182.3 742.9L1191.7 748.2L1201.4 747.2L1207.2 751.9M1071.3 701.1L1080.1 699.4L1085.6 703.1L1092.1 705.6L1101.3 704.1L1108.8 707.4L1118.1 708L1127.7 712.4L1134.9 711.3L1143.4 713.2L1149.8 715L1155.6 719.2L1162.2 719.5L1170.2 719.9L1180 723L1188.4 724.8L1195.8 727.1L1201.7 728.3M1072.9 682.5L1078.7 684.5L1087.8 684.3L1096.7 686.1L1105.1 690.4L1115 689.7L1123.2 690.4L1129.3 691.6L1136.5 694.5L1145.7 697.8L1153.7 699.8L1160.5 696.8L1166.9 700.3L1173.8 699.3L1181.9 701.1L1188.7 704L1195.8 704.7L1204.8 706.4M1073.7 666.9L1080.5 666.2L1088.8 668.7L1095.6 671.8L1102.9 673.3L1110 672.3L1117.9 672.2L1124.1 675.6L1132.7 674.7L1139.7 677.8L1146.3 678L1154.2 677.2L1160.9 680.2L1170.1 682.1L1176.7 679.6L1186.3 683.9L1193.6 684.3L1200.7 683.9M1071.3 650.5L1078.6 653L1086.9 651.7L1094.5 652L1103 655.9L1109.4 654.6L1118.1 655.3L1125 657L1134.2 657.8L1142.4 659.4L1151.3 659.3L1157.5 658.7L1167.1 658.7L1177.2 661.1L1185 663.9L1194.2 664.2L1201.5 666.3M1069.4 633.8L1075.7 635.6L1082.3 635.3L1090.6 636.7L1099.6 636.8L1109.4 636.5L1116.6 636.3L1122.5 639.4L1128.8 636.7L1137.2 637.8L1147.4 641.9L1157.3 642.9L1166.7 640.2L1174.5 640.4L1183.8 642.8L1190.9 644.8L1197.4 643.6L1205.6 645.8M1068.4 616.5L1076.9 618L1084.9 619.6L1090.9 620.4L1097.7 621.3L1104.1 618.6L1114.5 619.3L1124.2 621.8L1134 621.5L1143.8 622.5L1151.2 621.5L1158.2 623L1167.5 621L1177.9 622L1185.5 623.2L1194.1 623L1204.2 623.5M1067.6 602L1076.4 602.9L1083.9 601.8L1091.9 602.8L1099.6 603.5L1108.5 601L1115.3 602.1L1123.7 602.2L1132.7 603.3L1138.8 603.5L1147.1 602.4L1157.3 602.3L1166.2 603.7L1175.8 604.8L1185.8 603.3L1193.8 602.4L1202.3 601.2L1208.8 605.3" stroke="#cc70b4" stroke-opacity=".8" stroke-width="1.5" fill="none" marker-start="url(#sq)" marker-mid="url(#sq)" marker-end="url(#sq)"/>
<path d="M1087.5 586.3L1125.7 585.4L1146 585.4L1152.6 586L1166.8 583.5L1175.7 584.2L1184.2 585.4L1103.5 570.1L1148.3 566.8L1156.1 565.9L1165.9 562.7L1179.8 565.1L1187.9 563L1195.2 565.2L1203 563.1L1070.2 556.2L1076.5 554.5L1100.6 551.5L1132.8 549.6L1140.5 549.3L1149.8 546.8L1159.3 546.8L1166.1 544.1L1203.8 542.6L1088.1 537.6L1097.3 532.7L1106.5 534.3L1115 534.2L1129.7 530.6L1139.9 529.7L1164 527.5L1198.2 521.6L1073.5 520.6L1090.5 518.5L1107.5 517.7L1115.4 516.6L1122.4 515.5L1149.9 508.4L1184.7 501.3L1194.9 503.4L1202.5 500.6L1083.1 501.4L1115.2 497.9L1121.6 497L1127.7 495.6L1134.9 493.7L1144.1 492L1159.9 490.1L1166.9 488.8L1175.5 484.7L1209.6 476.7L1073 488.2L1079.1 487.9L1085.2 485.8L1091.6 486.1L1098.6 483.5L1151.5 469.5L1157.3 467.2L1208.4 455.2L1092.7 465.6L1105.4 461.8L1114.2 459.4L1121.5 458.2L1129.3 456.3L1135.2 452.8L1141.7 450.7L1152.7 452.2L1159.6 446.7L1170 445.6L1187.2 442.1L1073.6 455.1L1079.9 449.6L1108.3 442.9L1117.7 442.4L1126.1 438L1134.9 434.5L1142.6 434.9L1152.2 431.6L1159.7 428.3L1166.3 424.5L1200.1 416.9L1072.5 438.5L1094.1 429.5L1103.1 424.4L1120.2 421.9L1126 418.1L1134 413.4L1169.7 404.6L1178.7 399.6L1186.4 399.4L1069.4 420.3L1078.6 417.2L1084.4 412.5L1090.9 409.2L1099.8 409.4L1106 406L1120.7 400.6L1133.9 397.2L1139.3 393.6L1167 383.4L1172.5 378.5L1182.6 378.9L1079.6 394.8L1111.3 384.1L1117.8 381.2L1124.6 376L1131.1 373.9L1148.8 367.5L1156.2 365.8L1162.4 361L1068.3 380.2L1075.1 379.5L1083.3 374.1L1100.4 369.7L1105.1 363.5L1113.1 360.1L1136 349.6L1142.5 348.3L1151.2 346.2L1079.3 357L1086.4 354L1105.7 344.5L1113.4 338.4L1121.2 338.6L1137.8 330.7L1146.3 324.9L1154.8 319.5L1067.9 345L1086.3 332.5L1091.7 329.1L1106 322.6L1117.9 314.4L1137 307.4L1077.3 318.4L1085.7 314.2L1093.6 308.5L1099.7 301.3L1107.8 298.1L1115.7 296.9L1133.8 281.8L1101.6 282L1115 269.7L1079.3 271.1L1105.7 254.7L1112.1 248.8L1071.1 252L1079.7 247.5L1094 236.6L1069.4 228.2L1069.1 201.4L987.9 107.7L931 117.4L932.3 110.2L938.4 102L950.1 89.7L910.6 111.6L918.9 98.8L926.1 81.8L932 77.9L884.8 118.4L894.2 100.7L902 88.5L911.9 69.1L865.1 113.8L879.1 81.6L886.1 74.6L890.9 60.1L838.5 120.7L843.6 111.7L847 105.3L855.2 92.7L861.4 79.5L863.2 73.2L871.2 56.7L878.4 43.6L821.4 112.8L824.8 104.3L827.8 98.4L830.8 93.2L835.6 85.9L847.2 60.2L853.4 45.8L802.1 119.8L809 94.3L814.4 87.7L825.8 64.3L832.3 41.3L836.2 33.1L781.3 118.8L789.4 97.1L797.3 84.3L799 74.2L806.8 60.8L808.3 50.6L816.7 33.4L822.3 18.3L767.4 112.9L773.4 88.2L775 80.6L777.3 74.1L783.1 67.4L788.7 51.1L794.7 34.4L801.5 17L744.5 119.8L746 112.8L753.5 100L761 75.7L765.9 61.9L770 39.3L773.3 32.9L776.2 18L731.3 115L731.9 107.2L734.3 93.8L738.7 85.7L739.5 78.6L739.9 70.4L744.6 63.8L748 54.4L749.5 46L751.2 36.4L757.5 10.6L711.2 115.5L712.3 105.7L714.6 99.3L717.1 89.9L723 73.6L729 43.3L731 33.8L738.7 9.9L741.7 1.8L743.5 -7.1L693.8 114L695.7 107.9L698 90.8L703.9 76.1L710.1 52L710.7 43L712.3 34.5L713.4 26.2L677.6 120.1L680.5 100.3L682.6 83.6L685.1 67.2L688.2 61.1L697.6 10.6L698 3.7L699.1 -6L664.7 96.7L669 57.5L672.9 42.4L673 33.8L672.4 23.3L675.2 17.5L677.5 -1.3L679.9 -9.9L647.2 101.6L648 92.1L651.4 67L650.9 53.6L653 46.8L652.8 39.8L653.7 30L655.7 12.9L655.5 6.4L660 -9.7L628.2 120.9L629.2 97.3L629.6 87.9L632.4 70.3L635.1 52.9L633.4 37.8L634.5 23.2L638.2 17L637 2L611.5 102.6L614.8 85.9L614.2 78.3L614.5 59.2L614.9 51.2L618 4.5L619.1 -1.5L598.1 120.5L596.5 112.9L594.5 95.8L598.6 71.4L596.6 57.4L599.1 49.8L596.3 40.6L596.8 32.2L595.2 -2.5L579.5 117.2L579.6 109.8L581.1 101.3L579.1 73.3L580.2 65.1L576.9 58.5L579.6 34.6L578.1 25L577.8 -0.1L565.6 107.9L563.7 100L561.5 83.1L562.2 73.3L560.9 29.9L558.9 20.6L547 107.5L546.9 94.2L546.2 86.8L543.8 68.8L542.4 35.9L538.9 19.6L538.5 1.3L536 -8.6L530.7 119.1L530.5 99.7L529.3 83L520.5 43.7L519.9 36.3L519.7 19.1L518.5 4.1L518 -4.4L515.7 108.4L514.3 100L509.9 92.1L510 83.3L508.7 77.3L507.1 71L501.1 41.7L500.3 24.1L495.4 -6.9L494.4 94.5L490.7 74.5L490.6 66.5L484.1 36.6L476.6 98.3L475.1 80.1L469.2 64.6L466.2 55.3L466.4 42.8L462.9 33.7L456.1 1.8L454.8 -4.4L459 94.8L456.7 84.8L447.8 60.6L446.6 41.6L440.2 24.4L446 120.1L441 103.1L436.9 81.4L433.4 66.8L429.5 57.5L425.8 48.4L415.7 16.6L411.6 -0.3L431.2 120L428.9 114.2L416.7 84.2L412.2 68.6L405 50.5L402.4 41.5L397.9 26.7L395.3 17.9L395.3 10.2L389.3 3.1L412.1 120.7L385.4 50.9L384.1 42.8L381.4 36.5L392.1 112.3L390.1 105.4L378.4 88.2L376.3 80.4L372 63.2L369.4 57.8L365.4 50.1L355.1 21.7L350 15.7L368.9 112.1L342.6 54.1L341.9 44.3L334.8 27.9L352.8 117L349.6 108.9L346.5 101.5L341.6 94.1L336.8 85.2L331.3 115L301.6 60.4L299.1 51.1L296.5 44.4L309.2 112.8L306.3 104.1L296.9 89.8L291.7 82.5L284 71.9L280.3 66.4L277.4 59.3L273.8 53.7L291.9 120.1L289.5 113.3L274.3 91.6L270.8 82.8L258.6 63.8L267.4 115.1L260.6 107L247.5 89.3L245.2 83.5L239.7 79L234.6 103.4L230 97.9L205.7 103.6L192.1 116.1L111.7 215L106.4 207.1L98.7 203.7L106.6 237.7L102.8 231.7L93.8 227.3L117.3 269.9L110.5 264.9L91.2 251.1L86.7 244L76.9 240.7L117.1 289.8L110.4 283.4L100.4 281.1L116.5 310.9L107.7 307.6L95.2 297.9L79.4 292L48.8 273.3L120.2 337.5L112.4 333.5L104.8 327.6L73.5 310.7L58.4 303.4L36.5 287.2L120.1 358.2L108.5 348.4L91.6 342L67.3 326.2L52 319.8L36.2 314.6L113.8 374L108.3 369.9L100.4 366.5L88.8 358.5L81.3 355.8L57.8 345.9L51.1 342L42.7 337.5L33.4 336.1L112.1 391.9L90 381L81.6 377.5L76 373.4L50.7 364.4L36.3 359.7L21.3 351.6L8.8 347.2L99 405.4L83.2 398.6L75.9 394.8L68.5 392.7L60.9 388.4L53.7 386.9L30.2 376.6L20.7 374.9L106.7 427.2L81 416.3L71.4 412.3L47.5 406.9L38.7 401.8L15.5 393.6L-5.8 385.7L113 447.8L98.1 443.9L86 438.3L76.6 436.4L52.7 428.3L44.8 426.9L33.3 418.7L27.1 417.1L2.6 411.3L-6.8 406.7L116.9 463.7L106.4 462.8L75.1 452.1L58.2 446.9L27.7 438.9L10 436.1L101.8 480.5L71.8 469L61.4 468.6L52.6 467.8L31.2 459.5L11.4 457.5L-2.4 451.4L109.5 495.5L90 494.3L73.4 490.3L49.4 482.9L41.9 484.5L35 479.9L13.1 476.6L-7.3 470.5L108.1 514.9L76.7 507.3L70 508.9L62.2 505.3L38.1 500.9L4.3 495.6L-5.1 491.9L100.2 531.2L85.6 529.2L78.4 526.7L59.6 522.4L53.4 520.5L44.9 523L38.3 520.1L29.1 518.1L22.3 518.2L14.2 518.9L4.7 514.5L-3.8 514L-9.9 513.3L97.1 545.3L82.7 543L73.9 541.2L57.4 539.6L48.9 540.4L31.8 540.2L14.6 538.8L4.7 534.5L113.2 563.3L103.5 561.6L94 563L83.8 562.7L74.1 559.5L57.1 558.7L47.4 560.1L31.1 555.8L22.5 555.5L15.1 554.4L8.2 556.6L115.9 580.6L107.3 580.5L79.9 577.4L54 579L34.9 577.6L27 575.9L17.6 574.9L11.1 575.9L1.5 573.9L-7.7 576.4L113.7 597.1L94.8 595.8L86.2 593.3L61.2 594.7L1.1 595.5L-6.1 596.6L106.2 612.2L77.3 612.1L53.5 615.1L47.3 612.4L24.6 614.2L120.5 625.6L111.2 629L103.7 626.5L88.5 630.6L81.6 627.8L74.3 631.7L49 629.7L42 632.7L16.5 632.3L80.2 645.3L70.3 648.5L60.3 648.4L32.7 652.8L17.5 652.4L10.8 654.7L1.3 652.5L-9 654L109 660.7L70.4 665.7L61.4 665.4L55.4 667.4L40.4 668.3L32.4 669.2L-2.4 675.2L101.5 679.5L70.9 683L46.5 688.2L39.4 687.5L31.8 687.8L24.8 691.7L15.9 690.7L-2.6 693.5L114.9 692.5L97.9 696.5L81.2 697.1L72.4 699.8L57 704L29 708.1L6.6 714L118.4 708.5L103.3 711.7L93.7 716.3L82.8 714.9L65.3 718.6L30.3 727.8L14.5 733.6L7.2 732.6L-2.1 737.1L107.5 728.2L98.1 731.7L89.2 734.3L82.1 736.1L67 740.3L60 740.2L51.2 744.7L40.3 744.4L25.4 751.3L16.8 753.7L-1.2 757.9L-9.9 760L111.4 746.3L84.4 752.6L68.6 755.6L60.1 760.9L36.3 767.8L28.3 768.6L19.2 773.6L5.5 777L-1.8 778.6L108.2 765.4L101.6 768L93.2 769.4L85.3 770.2L57.5 779.2L51.1 783.7L27.8 789.6L22.1 794.2L6.5 797L-8.7 804.5L119 777L112.8 779.7L102.9 782.6L97.2 786.5L88.7 789.2L82.8 793.1L62 799.4L45 803.5L35.8 806.8L115.7 796.7L110.3 801.2L61.4 821.2L52.9 822.9L47.1 827.8L31.2 831.1L5.4 843.4L96 826.4L88.8 830.3L81.8 831.1L74.3 836.8L67.6 840.7L38.2 851.4L33.2 855.9L23.7 858.6L16 860.9L8.1 864.6L117.3 834L102.6 840L88.3 847.7L45.8 868.5L30.6 880.3L23.7 881L101.1 863.6L94.5 869.3L88.5 872.6L82.4 874.3L59.7 885.9L52.1 890.1L38.1 896.2L33.2 902.2L24.6 907.1L111.1 880.1L103.5 886.8L94.6 888.5L89.2 893.2L80.3 896.5L59.8 910.5L45.4 920.6L32.4 926.9L115.3 898L101.7 906.9L94.6 909.9L87.8 918.6L71.1 925L116.8 918.6L110.8 926.2L96.1 936.7L112.2 948.7L98.4 955.4L75.1 973.2L69 977.7L114.6 971.5L107.6 977.5L111.4 997.7L96.9 1009.9L120.2 1020.6L155.2 1075.3L190.7 1070.8L206.5 1082.4L203 1088.2L198.3 1093.7L192 1100.1L234.8 1077.4L225.3 1093.6L206.9 1112.2L260.1 1074.9L256.1 1082.3L248.7 1095.3L235.9 1108.5L229.9 1116.5L222 1130.6L262.3 1112.6L257 1118.3L307.8 1072.8L304.3 1078.4L279.5 1123.4L268.6 1138.4L258.7 1151.4L325.3 1077.8L321.9 1087L312.1 1102L290.5 1138.1L286.2 1147.1L285 1154L351.3 1067.6L347.7 1075.8L335.8 1096.3L332.9 1101.9L332.4 1109.1L325.4 1114.9L310.1 1149.3L301.3 1164.4L298.2 1173.3L362.3 1087L359.2 1097L356.6 1103.3L345.8 1118.5L341.5 1132.3L335.5 1147.2L332.8 1153L328.4 1160.1L322.4 1173.7L379.8 1091.6L373.6 1111.3L369.3 1118.8L356.3 1150.3L352 1158.4L348.2 1165.8L342.4 1173.1L338.3 1187.6L408.1 1069.8L404.4 1075.4L400 1089.1L399.4 1095.9L385.1 1126.2L380.8 1135.6L377.2 1145.3L374.4 1152.7L365.6 1179.8L363.1 1187.7L426.2 1072.6L419.7 1080.9L411.9 1114.7L400.9 1142L379.9 1198.9L376.9 1207.9L442.5 1070.4L441.3 1080.4L436.3 1086.6L432.4 1103.4L427.8 1122.3L415 1157.5L414 1164.7L408.9 1170.9L404.1 1190.1L403.6 1197.5L402.7 1204.2L459.9 1068.9L457.2 1074.6L456.5 1084L452.6 1092.7L448.4 1116.2L444.9 1129.1L436.8 1159.1L432.1 1168.2L421.2 1201.5L478.4 1068.3L475.9 1075L467 1102.7L467.1 1111.8L464.8 1127.1L461.8 1132.9L457.8 1141.7L459 1152.3L452.5 1165.4L452.7 1173.5L449.6 1183.3L489.2 1094L486.2 1099.6L485.4 1106.4L482.1 1115.2L480.4 1125L481.9 1135.8L479.6 1144.3L472 1163.2L508.2 1088.2L506.7 1096.2L502.4 1115.1L500.9 1121.5L498.6 1127.5L497.6 1137.9L496.7 1144.4L495 1166.6L493 1172.4L490.6 1180.8L488.8 1203.8L522.5 1103.5L518.7 1111.6L519 1129.3L508.5 1194.9L508.7 1201.6L534.2 1135.3L532.6 1151.3L529.9 1186.7L529.2 1209.6L558.1 1079.1L559 1085.8L557.3 1094L553.7 1101.6L555.5 1109.5L552.5 1130.5L553.7 1138.2L552.3 1152.1L551.4 1161.1L550.9 1176.9L546.9 1204.9L573.6 1069.4L571.9 1078.2L571.1 1151.4L569.5 1159L568.4 1176.2L568.8 1186.7L570.6 1204.1L590.7 1073.6L588.8 1082.9L588.9 1128.6L591 1145.8L588.5 1179.3L589.7 1195.7L605.4 1104.3L605.8 1128.5L608.1 1160.7L607.1 1175L606.8 1201.4L622.1 1072.8L623.6 1079.1L622.5 1102.5L625.5 1112.3L624.9 1121.7L624.8 1130.4L628.8 1163.4L626.9 1171L626.4 1178.9L629.4 1186.3L629.3 1200.5L637.7 1067.3L638.4 1081.9L637.3 1091.5L640.4 1097.7L641.6 1105.7L641.2 1123.6L643.2 1131.9L644.9 1139.8L645.1 1156.1L646.2 1164.5L647.8 1170.5L645.7 1178.7L648.3 1188.4L650 1197.6L651.6 1206.3L654.9 1072.9L657.8 1093.2L656.2 1100.9L659 1111L659.2 1126.7L661.7 1147.2L664.5 1168.2L666.3 1177.8L668.2 1188.1L668.8 1075L676.6 1129.8L685 1159.7L684.8 1169.2L688.4 1187.4L690.7 1193.5L688.3 1200.2L690.1 1209L689.2 1081.5L688.7 1087.9L690.1 1096.1L694.2 1125.2L699 1134.2L699.6 1147.6L703.1 1155.4L705.2 1180.4L708.6 1199.2L710.7 1111.4L716.3 1138.5L717.8 1146.7L723.8 1167.7L733.1 1199.3L733.5 1206L719.6 1067.7L726.7 1101L728.2 1107.9L733.6 1131.5L737.3 1146.4L742.1 1165.8L748.6 1181L749.8 1191L750.9 1197.2L737.1 1082.4L740.4 1091.8L746.5 1107L751.9 1122.4L753.9 1135.2L756.6 1142L765.9 1171.6L770.2 1180.8L769.6 1189.5L775.5 1204L755 1071.9L757.1 1080.6L759.9 1087.4L760.8 1095.9L766 1105.2L770.2 1123L775.7 1132L776.7 1141.2L784.2 1157.9L793.4 1191.6L798.5 1199.1L797.7 1207.6L769.8 1069.9L773.2 1077.4L779.8 1092.6L780.9 1098.7L783.1 1107.9L795.5 1134.8L798.9 1142.4L805.1 1157.1L788 1072.1L792.5 1079.1L796.7 1085.8L800.1 1099.6L803.6 1108.7L811.1 1124.1L815.3 1130.1L818.5 1147.1L831.5 1170.8L835.5 1183.7L809.5 1069.4L818.6 1094.7L824.5 1102.2L826.5 1111.6L833.6 1128.1L844.6 1150.8L851.5 1169.2L863.8 1190.1L835 1086.5L840.2 1101.7L849.1 1117.3L852.6 1124.7L859 1136.8L873.1 1159.4L877.2 1168.2L879.3 1178.5L851.1 1074.2L855.8 1082.8L861.2 1098.5L871.6 1118.4L875.5 1126.3L882.7 1133.3L883.6 1141.7L865.1 1068.7L871.5 1076.4L882.9 1100.3L888.3 1104.8L896.4 1122.3L909.9 1139.4L912.8 1146.1L888.3 1070.8L900.9 1086.5L903.6 1094.9L914.4 1106.7L917.4 1117L923.4 1125.3L933.6 1139.5L918 1077.9L922.9 1085.5L927.3 1091.9L929.8 1099.3L934.6 1103.9L937.4 1110.2L941.8 1116L951.6 1129L932.6 1069L937.2 1076.5L957.9 1100.3L961.3 1107.6L975 1093.2L983 1099.9L998.6 1086.7L1003.9 1093.9L1068.8 1009.4L1075.2 1015.5L1075.3 987.7L1082.5 992.5L1089.6 994.4L1081.2 961.4L1089.3 971.8L1069.9 933.3L1082.5 942.5L1091.5 946.8L1096.3 951.9L1109.9 961.4L1117.1 964.3L1122.4 967.9L1096.2 927.3L1103.5 931.2L1124.2 941.4L1132 946.3L1078.4 889.1L1108.9 910.9L1118.3 914.4L1126.1 920.9L1143.3 929.2L1073.2 865.8L1086.3 876.1L1106.7 882.8L1112.6 887.1L1142.9 907L1071.5 845.9L1079.2 850.3L1087.5 854.4L1161.6 890.5L1100.1 836.7L1104.4 842.1L1112 845.5L1119.9 848.1L1125.7 852.7L1155.9 863L1170.3 872L1072.9 806L1096.1 815.9L1101.3 820.9L1117.4 826.3L1126.4 828.7L1135.8 831.7L1141.3 837.3L1147.4 839.6L1096.8 796.1L1104.6 799.2L1114.2 802.9L1140 812.3L1146.6 817.2L1169.3 826.1L1176.6 828.7L1075.8 768.2L1083.7 771.2L1106.7 780.7L1112.9 785.3L1122.4 785L1129.2 787.2L1136 793.2L1143.1 793.4L1152 798.9L1158.5 801.6L1165.2 803.5L1172.6 806.1L1188.2 810.8L1083.3 754.5L1134.3 770.9L1156.9 779.8L1197.8 792.6L1098.1 741.8L1107.2 743.6L1123 746.6L1131.9 752.3L1155.2 755.4L1177.5 763.2L1185 767.2L1068.3 713.7L1076.8 718.6L1091.8 723.6L1099.2 724.6L1109 726.1L1118.6 728.3L1125.9 730.7L1151.6 738.1L1160.1 736.9L1165.8 741.8L1182.3 742.9L1191.7 748.2L1080.1 699.4L1085.6 703.1L1092.1 705.6L1101.3 704.1L1127.7 712.4L1143.4 713.2L1149.8 715L1155.6 719.2L1162.2 719.5L1188.4 724.8L1195.8 727.1L1201.7 728.3L1078.7 684.5L1087.8 684.3L1123.2 690.4L1136.5 694.5L1181.9 701.1L1195.8 704.7L1073.7 666.9L1095.6 671.8L1110 672.3L1132.7 674.7L1146.3 678L1154.2 677.2L1170.1 682.1L1176.7 679.6L1200.7 683.9L1078.6 653L1086.9 651.7L1103 655.9L1134.2 657.8L1157.5 658.7L1069.4 633.8L1082.3 635.3L1099.6 636.8L1116.6 636.3L1147.4 641.9L1166.7 640.2L1190.9 644.8L1197.4 643.6L1205.6 645.8L1068.4 616.5L1076.9 618L1084.9 619.6L1090.9 620.4L1097.7 621.3L1104.1 618.6L1114.5 619.3L1124.2 621.8L1151.2 621.5L1167.5 621L1177.9 622L1185.5 623.2L1204.2 623.5L1067.6 602L1091.9 602.8L1099.6 603.5L1108.5 601L1115.3 602.1L1123.7 602.2L1147.1 602.4L1157.3 602.3L1185.8 603.3" stroke="none" fill="none" marker-start="url(#sp)" marker-mid="url(#sp)" marker-end="url(#sp)"/>
</g>
<circle cx="590" cy="611" r="650" fill="none" stroke="#cc0c36" stroke-width="14"/>
<circle cx="590" cy="611" r="653" fill="none" stroke="#ee2c58" stroke-width="2.5" opacity=".8"/>
<circle cx="590" cy="611" r="649" fill="none" stroke="#800420" stroke-width="1.5" opacity=".9"/>
<circle cx="50" cy="62" r="76.2" fill="#ff0418" opacity=".5" filter="url(#g4)"/><g transform="translate(50 62)" fill="none" stroke-linecap="round"><circle r="71.8" fill="#46000b" stroke="none"/><path d="M-51.8 -51.8L51.8 51.8M-51.8 51.8L51.8 -51.8M0 -70.3V70.3M-70.3 0H70.3" stroke="#c4081a" stroke-width="2.6"/><circle cx="-18.5" cy="-18.5" r="22.2" stroke="#e00a1e" stroke-width="6"/><circle cx="-12.6" cy="-12.6" r="37" stroke="#e00a1e" stroke-width="7"/><circle cx="-6.7" cy="-6.7" r="51.8" stroke="#e00a1e" stroke-width="8"/><circle cx="-0" cy="-0" r="65.5" stroke="#e00a1e" stroke-width="17"/><path d="M4.5 -19.3h0M1.1 -11.9h0M1.6 -9.2h0M-2.8 -3.6h0M-5.6 0.3h0M-11.7 2.2h0M-15.1 4h0M-23 4.1h0M-28.6 2.9h0M-29.7 -0.9h0M-33.4 -4.8h0M-38.9 -8.4h0M-39.9 -13.4h0M-41.5 -19.1h0M-40.6 -22.1h0M-39.2 -28.3h0M-34.9 -33h0M-31.5 -34.4h0M-25.6 -37.7h0M-20.1 -41.2h0M-15.5 -40.5h0M-11.7 -40.3h0M-5.7 -38.5h0M-2.1 -34.8h0M0.1 -27.4h0M2.2 -24.7h0M24.4 -12.8h0M21.5 -6.8h0M22 -3.9h0M21.4 2.9h0M18.7 7.2h0M15.2 13.9h0M13.9 15.2h0M6.6 18h0M1.7 19h0M-1.7 22h0M-8.2 21.8h0M-12.2 24.7h0M-18.8 21.6h0M-21.1 22.2h0M-26.6 19.7h0M-32 20.4h0M-37.2 13.5h0M-40.1 9.7h0M-41.8 7.5h0M-45.9 2.3h0M-49.5 -2h0M-49 -6.3h0M-49.6 -11.3h0M-51.2 -18.9h0M-48.6 -24.8h0M-44.7 -29.1h0M-43.2 -31.4h0M-42.1 -38.8h0M-38.5 -41.6h0M-30.5 -42.1h0M-26.4 -45.5h0M-22.7 -50.1h0M-16.2 -48.6h0M-12.7 -51.3h0M-6.3 -49.8h0M-3.4 -50.4h0M2.8 -48.5h0M6.9 -43.9h0M9.4 -40.1h0M16 -39.5h0M20.1 -31.5h0M18.8 -27h0M21 -24h0M23.3 -16.8h0M44.7 -7.9h0M43.2 -2.9h0M44.5 2.6h0M41.7 10.1h0M41.6 14.7h0M36.2 19.1h0M35.8 21.5h0M31.3 25.4h0M31.1 30.5h0M24.8 34.4h0M18.4 36.4h0M15.3 41.7h0M11.9 39.7h0M5.2 41.8h0M2.2 46.1h0M-5.8 44.5h0M-8.8 45.4h0M-13.5 42.8h0M-17.4 41.4h0M-25.6 40.9h0M-29.9 42h0M-34 36.4h0M-38.8 35.8h0M-43.3 30.8h0M-45.1 24.2h0M-50.6 23.9h0M-50.4 16.3h0M-56.8 15.4h0M-58.6 8.8h0M-58.5 2.7h0M-55.9 -2.1h0M-56 -7.7h0M-58.7 -13.7h0M-59.5 -15.9h0M-56.5 -24.2h0M-51.9 -26.7h0M-49.4 -31h0M-49.3 -37.7h0M-44.6 -39.9h0M-42.8 -43.1h0M-38.5 -48.7h0M-34.9 -53.2h0M-29.4 -56.5h0M-25.3 -56.5h0M-17.8 -54.6h0M-14.7 -56.5h0M-8.3 -56.2h0M-4.3 -57h0M2.8 -58.3h0M6 -54.7h0M13.1 -56.1h0M18.1 -54.3h0M19 -50.1h0M27.8 -49.1h0M27.8 -43.5h0M31.6 -37.7h0M37.4 -35.4h0M38.2 -30h0M39.3 -24.9h0M44.1 -24.4h0M45.5 -16h0M46.9 -10.9h0M67.8 -0.1h0M62.6 1.9h0M72 4.7h0M70.4 7h0M65.2 8.5h0M59.2 9.7h0M57.5 10.6h0M62.5 14.8h0M67 17.6h0M67.4 19.7h0M65.3 20.8h0M65.5 23.9h0M62.6 24.5h0M53.4 23.9h0M57.7 26.8h0M59.1 29.5h0M58.4 33h0M54.9 33.4h0M55.7 36.4h0M54.2 37.5h0M49.5 36.3h0M46 36h0M54.6 46.5h0M51.4 44.8h0M52.1 48.9h0M47.7 47.2h0M43.9 47h0M40.6 46.2h0M44.9 55.2h0M39.5 52.4h0M41.7 58.3h0M34 51.5h0M36.3 56.8h0M29.9 51h0M28.8 53.9h0M30.5 62.2h0M26.9 58.8h0M27.2 62.8h0M21.1 54.8h0M19.9 56.5h0M22 67h0M19.5 69.1h0M15.5 63.1h0M13.8 64h0M13 69.5h0M10.5 68.8h0M7.7 61.2h0M6.4 67h0M3.5 70.7h0M1 63.2h0M-0.6 63.3h0M-2.1 64.6h0M-4.4 62.9h0M-7.1 65h0M-10.5 72.2h0M-10.3 63.9h0M-10.9 57.5h0M-15 66h0M-15.2 59.3h0M-21 67.3h0M-21.3 63.9h0M-20.3 56.1h0M-23.2 57.5h0M-27.7 62.2h0M-27.5 56.8h0M-32.1 60.2h0M-33.6 58.6h0M-35.2 57.2h0M-32.8 50h0M-38.2 54.8h0M-42.8 58.1h0M-42.1 52.5h0M-42.9 50.3h0M-41.7 45.3h0M-42.5 44.8h0M-51.2 50.5h0M-49.4 45.7h0M-50.2 43.2h0M-49.7 39.2h0M-51 39.1h0M-59.6 41.7h0M-53.3 35.9h0M-50.4 30.6h0M-52.3 29.3h0M-63.2 34h0M-64.4 32h0M-54.7 24.6h0M-64.1 27.4h0M-57.8 22.4h0M-61 20.8h0M-69.3 21.6h0M-63.8 16.9h0M-65.6 15.4h0M-70.5 14.3h0M-61.1 10.6h0M-62.1 9h0M-65.6 6.8h0M-60.4 5.2h0M-60.3 2.5h0M-64.9 0.8h0M-61.2 -1.3h0M-59.5 -3h0M-60 -5h0M-58.4 -6.7h0M-63.5 -9.7h0M-63 -11.4h0M-59.6 -12.9h0M-61.2 -15.1h0M-57.9 -15.4h0M-58 -17.7h0M-63.2 -22.3h0M-60.4 -22.6h0M-63.7 -25.7h0M-64.7 -29.1h0M-58.3 -29.1h0M-59.9 -32.4h0M-51.4 -29.1h0M-58.3 -35.8h0M-61 -39.7h0M-53.9 -37.5h0M-50.1 -37.3h0M-55.8 -44.3h0M-47.6 -40.4h0M-49.6 -44.6h0M-45.7 -43.8h0M-41.7 -44.3h0M-39.8 -43.6h0M-43.5 -52.2h0M-44.6 -55h0M-37.6 -50.8h0M-38.9 -54.9h0M-31.3 -48.8h0M-34.6 -56h0M-33.6 -58.6h0M-28.6 -56.1h0M-27.1 -55.8h0M-23.8 -53.9h0M-23.6 -56.6h0M-23.1 -63.9h0M-22.4 -67.7h0M-21.4 -69.6h0M-14.4 -56.4h0M-14.7 -61.2h0M-11.9 -61.2h0M-9.5 -57.9h0M-9.1 -68.5h0M-6.1 -60.7h0M-4.9 -65.9h0M-2.1 -67.1h0M-0.3 -65.4h0M1.8 -72.8h0M3.4 -68.6h0M5.4 -68.1h0M8 -70.2h0M10.4 -70.9h0M11.1 -56.9h0M14.7 -69.7h0M17.1 -70.8h0M17.1 -60h0M18.1 -55.7h0M21.5 -60.9h0M23.1 -59.9h0M22.8 -55h0M29.6 -62.4h0M31 -61.4h0M28.9 -52.4h0M35.6 -59.6h0M36.1 -58h0M35.9 -54.1h0M38.5 -54.2h0M42.6 -54.7h0M37.5 -44.7h0M39.7 -45.4h0M47.3 -51.3h0M41.5 -41.3h0M50.6 -48.5h0M49 -42.8h0M49.1 -40.4h0M57.7 -44.7h0M56.6 -41.7h0M58 -38.9h0M54.7 -34.5h0M55.3 -33.4h0M53.5 -30.3h0M62.1 -31.2h0M53.5 -25.8h0M66 -28.1h0M61.8 -25h0M62.3 -23.2h0M59.6 -19.7h0M61.2 -17.3h0M59.7 -15.9h0M60.4 -14.2h0M60.2 -12h0M70.5 -10.8h0M72.1 -8.9h0M69.5 -7.3h0M58.2 -3.1h0M63.5 -2.5h0" stroke="#ff6e6e" stroke-width="3.8"/><path d="M4.5 -19.3h0M1.1 -11.9h0M1.6 -9.2h0M-5.6 0.3h0M-15.1 4h0M-23 4.1h0M-28.6 2.9h0M-29.7 -0.9h0M-33.4 -4.8h0M-38.9 -8.4h0M-39.9 -13.4h0M-41.5 -19.1h0M-40.6 -22.1h0M-34.9 -33h0M-31.5 -34.4h0M-25.6 -37.7h0M-20.1 -41.2h0M-15.5 -40.5h0M-11.7 -40.3h0M-5.7 -38.5h0M-2.1 -34.8h0M0.1 -27.4h0M2.2 -24.7h0M24.4 -12.8h0M21.5 -6.8h0M22 -3.9h0M21.4 2.9h0M15.2 13.9h0M6.6 18h0M-18.8 21.6h0M-26.6 19.7h0M-32 20.4h0M-37.2 13.5h0M-40.1 9.7h0M-41.8 7.5h0M-45.9 2.3h0M-49.5 -2h0M-49.6 -11.3h0M-51.2 -18.9h0M-48.6 -24.8h0M-43.2 -31.4h0M-42.1 -38.8h0M-38.5 -41.6h0M-30.5 -42.1h0M-26.4 -45.5h0M-22.7 -50.1h0M-12.7 -51.3h0M-3.4 -50.4h0M2.8 -48.5h0M9.4 -40.1h0M16 -39.5h0M18.8 -27h0M21 -24h0M23.3 -16.8h0M43.2 -2.9h0M44.5 2.6h0M41.7 10.1h0M41.6 14.7h0M36.2 19.1h0M35.8 21.5h0M31.3 25.4h0M31.1 30.5h0M24.8 34.4h0M18.4 36.4h0M11.9 39.7h0M5.2 41.8h0M-5.8 44.5h0M-8.8 45.4h0M-13.5 42.8h0M-25.6 40.9h0M-29.9 42h0M-38.8 35.8h0M-45.1 24.2h0M-50.6 23.9h0M-50.4 16.3h0M-56.8 15.4h0M-58.6 8.8h0M-58.5 2.7h0M-55.9 -2.1h0M-58.7 -13.7h0M-59.5 -15.9h0M-56.5 -24.2h0M-51.9 -26.7h0M-49.4 -31h0M-44.6 -39.9h0M-42.8 -43.1h0M-29.4 -56.5h0M-25.3 -56.5h0M-17.8 -54.6h0M-14.7 -56.5h0M-8.3 -56.2h0M13.1 -56.1h0M18.1 -54.3h0M19 -50.1h0M27.8 -43.5h0M31.6 -37.7h0M37.4 -35.4h0M38.2 -30h0M39.3 -24.9h0M44.1 -24.4h0M46.9 -10.9h0M62.6 1.9h0M72 4.7h0M70.4 7h0M59.2 9.7h0M57.5 10.6h0M62.5 14.8h0M67 17.6h0M67.4 19.7h0M65.3 20.8h0M65.5 23.9h0M62.6 24.5h0M57.7 26.8h0M59.1 29.5h0M58.4 33h0M54.9 33.4h0M55.7 36.4h0M49.5 36.3h0M46 36h0M54.6 46.5h0M51.4 44.8h0M47.7 47.2h0M43.9 47h0M40.6 46.2h0M41.7 58.3h0M28.8 53.9h0M26.9 58.8h0M27.2 62.8h0M21.1 54.8h0M19.9 56.5h0M22 67h0M19.5 69.1h0M15.5 63.1h0M13.8 64h0M13 69.5h0M10.5 68.8h0M7.7 61.2h0M6.4 67h0M3.5 70.7h0M1 63.2h0M-0.6 63.3h0M-2.1 64.6h0M-4.4 62.9h0M-7.1 65h0M-10.3 63.9h0M-10.9 57.5h0M-15 66h0M-21 67.3h0M-21.3 63.9h0M-20.3 56.1h0M-23.2 57.5h0M-27.7 62.2h0M-32.1 60.2h0M-33.6 58.6h0M-35.2 57.2h0M-32.8 50h0M-38.2 54.8h0M-42.8 58.1h0M-42.1 52.5h0M-41.7 45.3h0M-42.5 44.8h0M-49.4 45.7h0M-50.2 43.2h0M-49.7 39.2h0M-51 39.1h0M-59.6 41.7h0M-50.4 30.6h0M-52.3 29.3h0M-57.8 22.4h0M-61 20.8h0M-69.3 21.6h0M-63.8 16.9h0M-65.6 15.4h0M-61.1 10.6h0M-62.1 9h0M-60.4 5.2h0M-60.3 2.5h0M-61.2 -1.3h0M-60 -5h0M-58.4 -6.7h0M-63 -11.4h0M-61.2 -15.1h0M-58 -17.7h0M-63.2 -22.3h0M-60.4 -22.6h0M-63.7 -25.7h0M-64.7 -29.1h0M-58.3 -29.1h0M-59.9 -32.4h0M-51.4 -29.1h0M-58.3 -35.8h0M-53.9 -37.5h0M-55.8 -44.3h0M-47.6 -40.4h0M-45.7 -43.8h0M-41.7 -44.3h0M-39.8 -43.6h0M-43.5 -52.2h0M-44.6 -55h0M-37.6 -50.8h0M-38.9 -54.9h0M-31.3 -48.8h0M-34.6 -56h0M-33.6 -58.6h0M-28.6 -56.1h0M-27.1 -55.8h0M-23.8 -53.9h0M-23.6 -56.6h0M-23.1 -63.9h0M-22.4 -67.7h0M-21.4 -69.6h0M-14.4 -56.4h0M-14.7 -61.2h0M-9.5 -57.9h0M-9.1 -68.5h0M-6.1 -60.7h0M-4.9 -65.9h0M-2.1 -67.1h0M1.8 -72.8h0M3.4 -68.6h0M5.4 -68.1h0M8 -70.2h0M11.1 -56.9h0M17.1 -70.8h0M17.1 -60h0M18.1 -55.7h0M22.8 -55h0M29.6 -62.4h0M31 -61.4h0M28.9 -52.4h0M35.6 -59.6h0M36.1 -58h0M38.5 -54.2h0M42.6 -54.7h0M39.7 -45.4h0M47.3 -51.3h0M41.5 -41.3h0M50.6 -48.5h0M49 -42.8h0M49.1 -40.4h0M57.7 -44.7h0M56.6 -41.7h0M58 -38.9h0M54.7 -34.5h0M53.5 -30.3h0M62.1 -31.2h0M53.5 -25.8h0M61.8 -25h0M62.3 -23.2h0M59.6 -19.7h0M61.2 -17.3h0M59.7 -15.9h0M60.4 -14.2h0M60.2 -12h0M70.5 -10.8h0M72.1 -8.9h0M58.2 -3.1h0" stroke="#ffe9e9" stroke-width="2"/></g>
<circle cx="1160" cy="87" r="83.4" fill="#ff0418" opacity=".5" filter="url(#g4)"/><g transform="translate(1160 87)" fill="none" stroke-linecap="round"><circle r="78.6" fill="#46000b" stroke="none"/><path d="M-56.7 -56.7L56.7 56.7M-56.7 56.7L56.7 -56.7M0 -77V77M-77 0H77" stroke="#c4081a" stroke-width="2.6"/><circle cx="20.2" cy="-20.2" r="24.3" stroke="#e00a1e" stroke-width="6"/><circle cx="13.8" cy="-13.8" r="40.5" stroke="#e00a1e" stroke-width="7"/><circle cx="7.3" cy="-7.3" r="56.7" stroke="#e00a1e" stroke-width="8"/><circle cx="0" cy="-0" r="71.7" stroke="#e00a1e" stroke-width="18.6"/><path d="M46.1 -20.9h0M44.1 -16.7h0M41 -11.7h0M39.3 -4.9h0M36.4 -1.4h0M33.4 1.2h0M26.5 2.8h0M21 3.3h0M15 5.1h0M12 2.5h0M7.4 -0.7h0M3.4 -5h0M-0.7 -8.3h0M-3.5 -11.7h0M-4.6 -16.5h0M-4.7 -23.6h0M-3.2 -29.4h0M0.8 -32h0M4.1 -36.3h0M6.1 -40.1h0M12.5 -42.8h0M16.6 -45h0M20.2 -46.1h0M25.8 -43.5h0M33.1 -40.8h0M34.3 -37.9h0M38.2 -35h0M43 -31.4h0M42.5 -24.5h0M54.7 -13.3h0M54.1 -8.1h0M52.8 -2.5h0M51 2.4h0M49.6 5.5h0M45.3 8.8h0M41.8 15.5h0M38.9 17.1h0M34.3 22.4h0M28 21.6h0M24.9 27.7h0M22.1 26.8h0M14.8 28.6h0M10.5 29h0M5.7 25.5h0M0.5 26.6h0M-3.7 23h0M-9.4 19.2h0M-12.8 16.7h0M-16.8 14.5h0M-20.2 8.3h0M-24.4 4.5h0M-23.3 0.1h0M-24 -5.6h0M-27.1 -11h0M-26.9 -17.4h0M-26.5 -22.3h0M-26.6 -28.2h0M-21.7 -30.5h0M-18.7 -34.4h0M-16.9 -37.7h0M-13.3 -41.3h0M-8.8 -48.4h0M-4.7 -50.3h0M1.3 -52.2h0M3.8 -50.7h0M8.4 -51.6h0M13.6 -51.9h0M20.4 -55.2h0M26.8 -51.8h0M28.8 -51.1h0M35.5 -46.7h0M37.3 -44.6h0M40.9 -42.1h0M46.3 -36.8h0M47.7 -33.1h0M49.6 -27.3h0M54.9 -25.6h0M52.7 -20.4h0M66.9 -9h0M60.7 -1.3h0M63.6 2.8h0M61.1 8.6h0M57.8 13.3h0M56.9 18.5h0M56.3 21.2h0M51.4 26.9h0M50.5 31.3h0M48.4 35.7h0M42.8 40.5h0M37.7 42.3h0M33.4 43.1h0M26.1 45.2h0M22.8 45.8h0M19.8 51h0M13.8 48.7h0M6.3 46.8h0M1.9 46.2h0M-4.5 46.6h0M-8.6 46.2h0M-15.4 46.8h0M-20.3 45.4h0M-24.6 41.1h0M-27.2 40h0M-32.1 35h0M-32.8 29.7h0M-36.8 24.5h0M-43.2 22.9h0M-43.4 16.9h0M-47.2 13.6h0M-45.5 7.1h0M-49.4 3.3h0M-47.8 -3.1h0M-51 -8.9h0M-51.4 -13.8h0M-48.4 -17.1h0M-48.8 -21.7h0M-44.1 -26.4h0M-45 -32.4h0M-42.1 -38h0M-36.5 -38.9h0M-34.4 -45.9h0M-33.3 -49.1h0M-26.1 -52.4h0M-22.8 -56.2h0M-20.3 -59.6h0M-12.3 -62.8h0M-6.5 -59.4h0M-2.7 -65.5h0M0.8 -64.3h0M8.6 -66h0M10.8 -63h0M17.6 -61.6h0M24.6 -63.6h0M27.5 -58h0M31 -55.7h0M36.4 -54.9h0M42.4 -53.8h0M44.6 -49.6h0M50.5 -47.8h0M53.3 -42.4h0M55.3 -37.5h0M57.1 -32.7h0M58.8 -25.6h0M60.9 -22.3h0M65.5 -16.9h0M66.5 -13.6h0M78.2 0.5h0M79.1 1.7h0M70 3.5h0M76.7 7.4h0M68.6 7.5h0M78.8 12.2h0M76.6 13.7h0M71.2 15.4h0M62.3 14.6h0M68.9 17.9h0M72.6 22.1h0M64.9 21.8h0M71.9 26.3h0M73.2 29h0M60.7 26h0M58.6 27h0M64.5 32.1h0M58.6 31.6h0M66.6 37.7h0M60.8 36.6h0M58.5 38.4h0M54.6 37.3h0M53.7 39.4h0M56.9 44.4h0M52.8 44.2h0M57.9 52h0M52.7 49.7h0M55.1 54.6h0M50.9 54.5h0M51.3 56.4h0M43.7 51.4h0M41.4 51.8h0M44.3 58.8h0M38 53.5h0M39.5 58.7h0M35.4 57h0M38.8 66.4h0M31.6 56.6h0M30.8 61.6h0M33.6 72.2h0M26.5 61.1h0M24 60.2h0M22.6 61.7h0M21.5 64h0M20.1 63.9h0M20 70.3h0M17.5 70.2h0M16.6 75.2h0M11.2 63.1h0M11.9 79.1h0M9.2 76.7h0M7.1 73.5h0M5.6 76.5h0M2.1 67.2h0M1 74.5h0M-1.4 71.7h0M-3.8 70.6h0M-6.3 77.6h0M-7.3 65.9h0M-10.6 74.4h0M-11.1 69h0M-13.3 70.3h0M-15.6 69.8h0M-17.5 67.6h0M-21.3 70.9h0M-20.1 62.2h0M-21.7 61.1h0M-28 71.3h0M-25.5 61h0M-27.6 59.2h0M-29.7 59.9h0M-30.6 56.8h0M-34.9 62.6h0M-35.4 57.7h0M-37.5 57.2h0M-36.1 52.2h0M-41.1 56.8h0M-40.8 53.5h0M-43.2 53.5h0M-42.4 49.3h0M-43.2 46.5h0M-48.5 49.9h0M-55 52.8h0M-57.5 53.2h0M-53 45.4h0M-52.1 41.9h0M-63.2 48.6h0M-54.3 39.2h0M-62.2 41.7h0M-54.4 34.1h0M-59.1 34.4h0M-60.1 32.9h0M-63.7 33.6h0M-67.3 33.1h0M-61.7 27.8h0M-68.2 28.8h0M-61.8 23.5h0M-60.7 20.4h0M-62.1 19.7h0M-75.6 20.8h0M-62.6 15.5h0M-77.3 17.2h0M-62.8 12h0M-76.7 12.7h0M-69.7 9.1h0M-73.4 7h0M-70.1 5.1h0M-77.3 3.4h0M-64.6 1.4h0M-67.9 -1.5h0M-72.5 -2.6h0M-75.7 -5.7h0M-74.2 -8.1h0M-75.1 -10.1h0M-70.7 -12h0M-75.1 -13.8h0M-73.3 -16.9h0M-77.1 -19.6h0M-74.3 -21.1h0M-70.9 -22.4h0M-69.4 -24.2h0M-61.3 -23.5h0M-64.6 -26.2h0M-63.9 -28.3h0M-62 -29.8h0M-67.1 -34.5h0M-63.1 -35h0M-59.3 -35h0M-59.2 -37.3h0M-54.3 -37.2h0M-62.9 -45.9h0M-50.3 -39.2h0M-57.4 -46.1h0M-58.8 -50.7h0M-49.2 -44.7h0M-51.9 -50.3h0M-50.8 -52.7h0M-54.3 -58.3h0M-46.7 -53.7h0M-45.7 -54.6h0M-48.2 -63.5h0M-39.4 -54.6h0M-40.7 -59.1h0M-36.8 -58h0M-36.6 -60.7h0M-37 -64.1h0M-30.8 -58.3h0M-28.6 -58.3h0M-26.8 -58h0M-28.3 -68.9h0M-25.7 -68.2h0M-23 -64.6h0M-21.9 -70.4h0M-19.2 -63.7h0M-18.5 -71.2h0M-15.6 -66.9h0M-13.7 -70.1h0M-11.2 -68.2h0M-10.4 -76h0M-7.9 -67.5h0M-5 -65.4h0M-3.7 -72.4h0M-1 -70.9h0M1.1 -69h0M2 -72.9h0M4.2 -70.7h0M6.7 -70.2h0M8.6 -67.6h0M12.3 -77.6h0M13.5 -77.7h0M14.6 -69.9h0M16 -63.5h0M17.8 -64.1h0M21.8 -69.9h0M23.7 -68.4h0M25.1 -67.6h0M27.2 -67.3h0M26.8 -62.2h0M34.5 -72.1h0M34.4 -68.7h0M34 -63.7h0M33.8 -57h0M35.2 -55.6h0M35.9 -55h0M40.5 -58.2h0M46.9 -61.3h0M45.5 -57.3h0M48.3 -58h0M48 -54.4h0M49.8 -52.9h0M54.7 -54.6h0M47.8 -45.3h0M56.4 -48.9h0M56.9 -46.8h0M54.3 -42.8h0M62.7 -45.7h0M54.1 -38.2h0M64.1 -42.7h0M62.6 -38.8h0M58.9 -33.3h0M64.5 -34.7h0M57.2 -29.2h0M71.7 -32.5h0M61.9 -26.7h0M65.5 -25.5h0M60.5 -22.4h0M61.2 -20.3h0M72.6 -22.1h0M74.9 -20.5h0M77 -18.2h0M68.7 -13.7h0M74.7 -13h0M70.9 -10h0M66.2 -8.1h0M76.7 -6.4h0M74.6 -4.7h0M74.3 -2.4h0" stroke="#ff6e6e" stroke-width="3.8"/><path d="M46.1 -20.9h0M36.4 -1.4h0M33.4 1.2h0M15 5.1h0M12 2.5h0M7.4 -0.7h0M3.4 -5h0M-0.7 -8.3h0M-3.5 -11.7h0M-4.7 -23.6h0M0.8 -32h0M6.1 -40.1h0M12.5 -42.8h0M16.6 -45h0M20.2 -46.1h0M33.1 -40.8h0M34.3 -37.9h0M38.2 -35h0M42.5 -24.5h0M54.7 -13.3h0M54.1 -8.1h0M49.6 5.5h0M38.9 17.1h0M34.3 22.4h0M28 21.6h0M24.9 27.7h0M14.8 28.6h0M10.5 29h0M5.7 25.5h0M-12.8 16.7h0M-20.2 8.3h0M-23.3 0.1h0M-24 -5.6h0M-27.1 -11h0M-26.9 -17.4h0M-26.5 -22.3h0M-21.7 -30.5h0M-18.7 -34.4h0M-16.9 -37.7h0M-13.3 -41.3h0M-8.8 -48.4h0M-4.7 -50.3h0M3.8 -50.7h0M20.4 -55.2h0M28.8 -51.1h0M37.3 -44.6h0M40.9 -42.1h0M46.3 -36.8h0M49.6 -27.3h0M54.9 -25.6h0M52.7 -20.4h0M66.9 -9h0M60.7 -1.3h0M63.6 2.8h0M61.1 8.6h0M56.9 18.5h0M56.3 21.2h0M51.4 26.9h0M48.4 35.7h0M42.8 40.5h0M37.7 42.3h0M26.1 45.2h0M22.8 45.8h0M19.8 51h0M13.8 48.7h0M1.9 46.2h0M-4.5 46.6h0M-15.4 46.8h0M-32.8 29.7h0M-36.8 24.5h0M-43.4 16.9h0M-47.2 13.6h0M-47.8 -3.1h0M-51 -8.9h0M-48.4 -17.1h0M-48.8 -21.7h0M-45 -32.4h0M-42.1 -38h0M-36.5 -38.9h0M-34.4 -45.9h0M-33.3 -49.1h0M-26.1 -52.4h0M-22.8 -56.2h0M-12.3 -62.8h0M-6.5 -59.4h0M0.8 -64.3h0M8.6 -66h0M10.8 -63h0M24.6 -63.6h0M27.5 -58h0M31 -55.7h0M36.4 -54.9h0M42.4 -53.8h0M44.6 -49.6h0M50.5 -47.8h0M53.3 -42.4h0M55.3 -37.5h0M60.9 -22.3h0M65.5 -16.9h0M66.5 -13.6h0M78.2 0.5h0M70 3.5h0M76.7 7.4h0M68.6 7.5h0M78.8 12.2h0M76.6 13.7h0M71.2 15.4h0M68.9 17.9h0M72.6 22.1h0M64.9 21.8h0M73.2 29h0M60.7 26h0M58.6 31.6h0M66.6 37.7h0M60.8 36.6h0M58.5 38.4h0M52.8 44.2h0M50.9 54.5h0M51.3 56.4h0M44.3 58.8h0M39.5 58.7h0M35.4 57h0M38.8 66.4h0M33.6 72.2h0M26.5 61.1h0M22.6 61.7h0M21.5 64h0M20.1 63.9h0M17.5 70.2h0M11.2 63.1h0M9.2 76.7h0M7.1 73.5h0M1 74.5h0M-1.4 71.7h0M-7.3 65.9h0M-11.1 69h0M-13.3 70.3h0M-15.6 69.8h0M-17.5 67.6h0M-20.1 62.2h0M-21.7 61.1h0M-28 71.3h0M-25.5 61h0M-30.6 56.8h0M-35.4 57.7h0M-37.5 57.2h0M-36.1 52.2h0M-41.1 56.8h0M-40.8 53.5h0M-43.2 53.5h0M-43.2 46.5h0M-48.5 49.9h0M-55 52.8h0M-57.5 53.2h0M-53 45.4h0M-54.3 39.2h0M-59.1 34.4h0M-60.1 32.9h0M-63.7 33.6h0M-67.3 33.1h0M-61.7 27.8h0M-68.2 28.8h0M-61.8 23.5h0M-60.7 20.4h0M-62.1 19.7h0M-75.6 20.8h0M-77.3 17.2h0M-62.8 12h0M-76.7 12.7h0M-69.7 9.1h0M-70.1 5.1h0M-64.6 1.4h0M-67.9 -1.5h0M-72.5 -2.6h0M-74.2 -8.1h0M-75.1 -10.1h0M-75.1 -13.8h0M-77.1 -19.6h0M-69.4 -24.2h0M-61.3 -23.5h0M-64.6 -26.2h0M-63.9 -28.3h0M-62 -29.8h0M-67.1 -34.5h0M-63.1 -35h0M-59.3 -35h0M-59.2 -37.3h0M-62.9 -45.9h0M-50.3 -39.2h0M-57.4 -46.1h0M-49.2 -44.7h0M-51.9 -50.3h0M-50.8 -52.7h0M-46.7 -53.7h0M-39.4 -54.6h0M-40.7 -59.1h0M-36.8 -58h0M-37 -64.1h0M-30.8 -58.3h0M-26.8 -58h0M-28.3 -68.9h0M-21.9 -70.4h0M-19.2 -63.7h0M-15.6 -66.9h0M-11.2 -68.2h0M-10.4 -76h0M-7.9 -67.5h0M-5 -65.4h0M-1 -70.9h0M2 -72.9h0M4.2 -70.7h0M6.7 -70.2h0M8.6 -67.6h0M12.3 -77.6h0M13.5 -77.7h0M14.6 -69.9h0M16 -63.5h0M17.8 -64.1h0M21.8 -69.9h0M23.7 -68.4h0M25.1 -67.6h0M34.5 -72.1h0M34.4 -68.7h0M34 -63.7h0M33.8 -57h0M35.2 -55.6h0M35.9 -55h0M40.5 -58.2h0M46.9 -61.3h0M45.5 -57.3h0M48.3 -58h0M48 -54.4h0M54.7 -54.6h0M56.4 -48.9h0M56.9 -46.8h0M62.7 -45.7h0M64.1 -42.7h0M64.5 -34.7h0M61.9 -26.7h0M65.5 -25.5h0M60.5 -22.4h0M72.6 -22.1h0M77 -18.2h0M68.7 -13.7h0M74.7 -13h0M70.9 -10h0M66.2 -8.1h0M74.6 -4.7h0M74.3 -2.4h0" stroke="#ffe9e9" stroke-width="2"/></g>
<circle cx="68" cy="1162" r="75.2" fill="#ff0418" opacity=".5" filter="url(#g4)"/><g transform="translate(68 1162)" fill="none" stroke-linecap="round"><circle r="70.8" fill="#46000b" stroke="none"/><path d="M-51.1 -51.1L51.1 51.1M-51.1 51.1L51.1 -51.1M0 -69.3V69.3M-69.3 0H69.3" stroke="#c4081a" stroke-width="2.6"/><circle cx="-18.2" cy="18.2" r="21.9" stroke="#e00a1e" stroke-width="6"/><circle cx="-12.4" cy="12.4" r="36.5" stroke="#e00a1e" stroke-width="7"/><circle cx="-6.6" cy="6.6" r="51.1" stroke="#e00a1e" stroke-width="8"/><circle cx="-0" cy="0" r="64.6" stroke="#e00a1e" stroke-width="16.8"/><path d="M4.9 19.2h0M3.9 25.2h0M-0.9 28.1h0M-4 32.2h0M-5.2 36.6h0M-10.1 37h0M-14.2 38.3h0M-19.7 39.6h0M-25.7 36.9h0M-31.5 35.1h0M-34.3 33.7h0M-38.2 30.8h0M-39.4 22.9h0M-38.2 19.8h0M-39.4 14.7h0M-36.9 9.7h0M-35.5 2.5h0M-31.2 0.4h0M-26.9 -1.5h0M-22.5 -5h0M-15.3 -1.7h0M-12.4 -1.1h0M-7.2 1.1h0M-1.2 2.8h0M2.8 8.1h0M2.6 11.5h0M24.5 12.2h0M21.8 17.3h0M24.5 22.3h0M21.3 26.2h0M20.5 32.3h0M14.1 36.6h0M9.1 38.8h0M8.7 44.8h0M1.5 44h0M-2.5 47.4h0M-7.9 47.5h0M-13.4 47.3h0M-18.2 46.5h0M-22.9 45h0M-30.3 47h0M-33 44.7h0M-37.4 40.1h0M-37.9 36.4h0M-42.5 31.8h0M-46.7 26.8h0M-48.7 22.7h0M-49 17.9h0M-46.5 13.9h0M-49.1 6h0M-48.8 1.2h0M-43.1 -3.1h0M-41.3 -7.6h0M-40 -11.9h0M-36.8 -16.2h0M-32.8 -20.8h0M-27.7 -18h0M-24 -24.4h0M-18.7 -24.4h0M-11.9 -26.2h0M-6.2 -21.8h0M-3.2 -21h0M1.6 -21.9h0M7.5 -19.9h0M12.5 -14h0M13.4 -11.8h0M17.2 -7.1h0M20 -2.5h0M22 1.8h0M21 6.1h0M41.8 5.7h0M46.4 12h0M45.3 15.7h0M42.4 21.2h0M39.4 27h0M38.2 31.4h0M34.5 35h0M32.3 39.4h0M28.8 44.8h0M25.6 49.8h0M20.5 48.1h0M15.6 52h0M8.6 52.6h0M7.5 55.3h0M1.4 55.3h0M-5.4 57.8h0M-7.7 58.2h0M-16.3 57.9h0M-17.5 55.8h0M-25.6 56.8h0M-30.5 52.5h0M-34.5 49.7h0M-37.6 48.2h0M-40.9 42.2h0M-43.3 38.4h0M-48.7 37.8h0M-52.5 30.5h0M-53.7 28.5h0M-56.1 20.7h0M-58.6 16.5h0M-54.9 9.9h0M-54.9 7.6h0M-56.7 0.9h0M-56.3 -4.7h0M-53 -9.8h0M-54.6 -12.3h0M-50.8 -16.8h0M-50.7 -22.9h0M-44.2 -27.6h0M-43.7 -30.9h0M-40.6 -35.4h0M-34.8 -37.8h0M-27.3 -38.9h0M-25.4 -39.9h0M-17.2 -41.4h0M-14.7 -46.8h0M-10.5 -45.4h0M-4.9 -46.2h0M2.5 -41.9h0M6.8 -39.8h0M11.9 -41.6h0M16.8 -38.2h0M20.8 -34.4h0M24.1 -35h0M27.1 -29.6h0M33.1 -25.7h0M37.1 -24h0M37.4 -16.5h0M42.8 -15.4h0M43.2 -10.4h0M42.7 -4.9h0M46.3 -0h0M63.4 -0h0M67.6 2.9h0M60 3.4h0M66 6.5h0M67.7 8h0M58.9 9.3h0M68.2 13.3h0M59.7 13.2h0M61.4 16.5h0M60.3 17.7h0M58.3 18.8h0M62.4 22.5h0M58.6 24.4h0M59.3 26.3h0M53.1 25.1h0M61 31.9h0M50.8 28.6h0M58.2 34.8h0M60.6 38.7h0M58.3 40.8h0M55.1 40.7h0M53.7 42.4h0M46.6 40.6h0M46.4 42.9h0M49.4 46.9h0M49.9 51.2h0M41.9 45.4h0M39.6 46.6h0M38 47.6h0M41.5 56.1h0M36.3 51.4h0M32.6 49.5h0M36.2 59.4h0M29.9 54.2h0M32.7 62.5h0M30.5 62.1h0M25.5 58.6h0M23.5 57.8h0M21.3 58.1h0M21.2 61.4h0M19.8 67.8h0M16.2 61.1h0M14.2 60.6h0M13.2 70.2h0M11.8 68.8h0M8.5 69.2h0M7 69.9h0M4.6 67.7h0M1.4 57.4h0M0.4 68.7h0M-1.8 61.1h0M-4 64.9h0M-6.1 66.4h0M-7.3 61.4h0M-9.4 59.8h0M-14.1 70.1h0M-14.2 61.3h0M-16.3 60.8h0M-20 69h0M-22.5 65.7h0M-24.3 67h0M-22 54.9h0M-29.2 65.6h0M-26 55h0M-27.3 52.4h0M-29.5 51.3h0M-35.6 58.8h0M-36.9 57.4h0M-41.6 58.4h0M-37.1 48.9h0M-38.8 48.6h0M-37.7 44.3h0M-42.4 47.3h0M-41.3 42.9h0M-51 49.7h0M-49.6 45.4h0M-45.1 38.1h0M-56.2 43.9h0M-48 35.2h0M-58.5 40.3h0M-51.7 33.7h0M-54.7 33.3h0M-54.1 30.2h0M-58.3 30.4h0M-52.9 25.4h0M-62.2 27.8h0M-63.2 26.3h0M-62.4 23h0M-60.8 20.6h0M-56.6 16.6h0M-57.4 15.6h0M-60.8 13.6h0M-64.7 12.1h0M-58.9 8.9h0M-60.1 7.2h0M-66.3 6h0M-61.3 3.9h0M-61.3 1.8h0M-61.5 0h0M-57.4 -1.3h0M-69.2 -4h0M-68.7 -6h0M-59.8 -7.7h0M-56.8 -9.2h0M-58.8 -11.6h0M-60.2 -13.1h0M-69.3 -18.5h0M-57.8 -17.6h0M-58.7 -19.8h0M-61.9 -22.3h0M-62.5 -26.1h0M-60.7 -27.4h0M-62.4 -30.5h0M-58 -30.8h0M-58.5 -32.9h0M-56.4 -34.2h0M-51.7 -34h0M-54.9 -38.7h0M-47.1 -35.7h0M-47.2 -37.7h0M-46.7 -40.5h0M-48.6 -43.5h0M-50.8 -49.6h0M-45.6 -46.1h0M-45.8 -50.9h0M-45.6 -54.7h0M-44.2 -56.4h0M-42.1 -57.6h0M-36.3 -51.3h0M-32.8 -50.6h0M-34.5 -57.4h0M-31.4 -54.7h0M-32.1 -60.8h0M-26.9 -56h0M-26.1 -58.5h0M-21.9 -53h0M-22.8 -60.5h0M-19.8 -60.6h0M-18 -60.7h0M-17.2 -64.7h0M-15.3 -68.8h0M-11 -57.3h0M-10.3 -65.4h0M-8.3 -62.3h0M-6.5 -66.9h0M-3.3 -61.5h0M-3 -71.7h0M0.1 -63.3h0M2 -68.6h0M3.8 -68.9h0M5.8 -59.2h0M7.4 -59.3h0M8.6 -56.9h0M13.2 -65.5h0M13.5 -56.6h0M17.9 -65.9h0M16.2 -55h0M20.3 -60.3h0M23.8 -65.2h0M24.3 -58.5h0M29.1 -65.2h0M26.8 -57.3h0M30.8 -60.1h0M28.4 -49.8h0M35.1 -58.9h0M31.8 -49.7h0M36.9 -52.3h0M38.7 -51.7h0M39.3 -50h0M40.4 -48h0M44.7 -48.3h0M45.7 -47.4h0M44.4 -42.7h0M48.9 -44.3h0M52.2 -45.3h0M55.6 -43.7h0M54 -40.7h0M49.9 -35.5h0M48.7 -32.4h0M58.1 -34.4h0M62.7 -35h0M52.3 -26.5h0M54.7 -26.5h0M60.8 -27.2h0M62.1 -25.1h0M61.7 -22.5h0M57 -19.2h0M62 -18.2h0M63.5 -17.1h0M66.6 -15.4h0M63.7 -12.1h0M58.7 -9.7h0M70.6 -9.5h0M69 -6.8h0M58.4 -3.2h0M64 -2.7h0" stroke="#ff6e6e" stroke-width="3.8"/><path d="M4.9 19.2h0M-4 32.2h0M-5.2 36.6h0M-10.1 37h0M-14.2 38.3h0M-19.7 39.6h0M-25.7 36.9h0M-31.5 35.1h0M-34.3 33.7h0M-38.2 30.8h0M-39.4 22.9h0M-38.2 19.8h0M-36.9 9.7h0M-35.5 2.5h0M-31.2 0.4h0M-26.9 -1.5h0M-22.5 -5h0M-15.3 -1.7h0M-12.4 -1.1h0M-7.2 1.1h0M-1.2 2.8h0M2.8 8.1h0M21.8 17.3h0M20.5 32.3h0M14.1 36.6h0M8.7 44.8h0M-7.9 47.5h0M-13.4 47.3h0M-18.2 46.5h0M-22.9 45h0M-30.3 47h0M-33 44.7h0M-37.9 36.4h0M-48.7 22.7h0M-49 17.9h0M-46.5 13.9h0M-49.1 6h0M-48.8 1.2h0M-43.1 -3.1h0M-40 -11.9h0M-32.8 -20.8h0M-27.7 -18h0M-24 -24.4h0M-11.9 -26.2h0M-6.2 -21.8h0M-3.2 -21h0M1.6 -21.9h0M7.5 -19.9h0M12.5 -14h0M20 -2.5h0M22 1.8h0M21 6.1h0M41.8 5.7h0M46.4 12h0M45.3 15.7h0M42.4 21.2h0M39.4 27h0M38.2 31.4h0M34.5 35h0M32.3 39.4h0M20.5 48.1h0M15.6 52h0M8.6 52.6h0M1.4 55.3h0M-7.7 58.2h0M-16.3 57.9h0M-17.5 55.8h0M-25.6 56.8h0M-30.5 52.5h0M-40.9 42.2h0M-43.3 38.4h0M-48.7 37.8h0M-52.5 30.5h0M-53.7 28.5h0M-54.9 9.9h0M-54.9 7.6h0M-56.7 0.9h0M-53 -9.8h0M-54.6 -12.3h0M-50.8 -16.8h0M-44.2 -27.6h0M-40.6 -35.4h0M-34.8 -37.8h0M-27.3 -38.9h0M-25.4 -39.9h0M-14.7 -46.8h0M-10.5 -45.4h0M2.5 -41.9h0M6.8 -39.8h0M11.9 -41.6h0M16.8 -38.2h0M33.1 -25.7h0M37.1 -24h0M37.4 -16.5h0M42.8 -15.4h0M42.7 -4.9h0M46.3 -0h0M67.6 2.9h0M60 3.4h0M66 6.5h0M67.7 8h0M58.9 9.3h0M68.2 13.3h0M59.7 13.2h0M60.3 17.7h0M58.3 18.8h0M62.4 22.5h0M53.1 25.1h0M61 31.9h0M50.8 28.6h0M60.6 38.7h0M58.3 40.8h0M55.1 40.7h0M46.4 42.9h0M49.4 46.9h0M49.9 51.2h0M41.9 45.4h0M39.6 46.6h0M38 47.6h0M41.5 56.1h0M36.3 51.4h0M32.6 49.5h0M30.5 62.1h0M25.5 58.6h0M19.8 67.8h0M14.2 60.6h0M13.2 70.2h0M11.8 68.8h0M8.5 69.2h0M4.6 67.7h0M1.4 57.4h0M-1.8 61.1h0M-4 64.9h0M-6.1 66.4h0M-7.3 61.4h0M-9.4 59.8h0M-14.1 70.1h0M-14.2 61.3h0M-20 69h0M-22.5 65.7h0M-24.3 67h0M-22 54.9h0M-29.2 65.6h0M-35.6 58.8h0M-36.9 57.4h0M-41.6 58.4h0M-38.8 48.6h0M-37.7 44.3h0M-42.4 47.3h0M-41.3 42.9h0M-51 49.7h0M-49.6 45.4h0M-48 35.2h0M-58.5 40.3h0M-51.7 33.7h0M-54.7 33.3h0M-54.1 30.2h0M-58.3 30.4h0M-62.2 27.8h0M-63.2 26.3h0M-62.4 23h0M-60.8 20.6h0M-56.6 16.6h0M-57.4 15.6h0M-60.8 13.6h0M-64.7 12.1h0M-58.9 8.9h0M-66.3 6h0M-61.3 3.9h0M-61.5 0h0M-57.4 -1.3h0M-69.2 -4h0M-68.7 -6h0M-59.8 -7.7h0M-56.8 -9.2h0M-58.8 -11.6h0M-60.2 -13.1h0M-69.3 -18.5h0M-58.7 -19.8h0M-61.9 -22.3h0M-62.5 -26.1h0M-60.7 -27.4h0M-62.4 -30.5h0M-58 -30.8h0M-58.5 -32.9h0M-56.4 -34.2h0M-51.7 -34h0M-54.9 -38.7h0M-46.7 -40.5h0M-50.8 -49.6h0M-45.6 -46.1h0M-45.8 -50.9h0M-45.6 -54.7h0M-36.3 -51.3h0M-32.8 -50.6h0M-34.5 -57.4h0M-31.4 -54.7h0M-26.9 -56h0M-26.1 -58.5h0M-21.9 -53h0M-19.8 -60.6h0M-15.3 -68.8h0M-10.3 -65.4h0M-8.3 -62.3h0M-3 -71.7h0M0.1 -63.3h0M2 -68.6h0M3.8 -68.9h0M5.8 -59.2h0M7.4 -59.3h0M8.6 -56.9h0M13.2 -65.5h0M13.5 -56.6h0M17.9 -65.9h0M23.8 -65.2h0M24.3 -58.5h0M26.8 -57.3h0M30.8 -60.1h0M28.4 -49.8h0M31.8 -49.7h0M36.9 -52.3h0M39.3 -50h0M40.4 -48h0M44.7 -48.3h0M45.7 -47.4h0M44.4 -42.7h0M48.9 -44.3h0M52.2 -45.3h0M49.9 -35.5h0M48.7 -32.4h0M58.1 -34.4h0M62.7 -35h0M54.7 -26.5h0M60.8 -27.2h0M57 -19.2h0M63.5 -17.1h0M66.6 -15.4h0M58.7 -9.7h0M70.6 -9.5h0M69 -6.8h0M64 -2.7h0" stroke="#ffe9e9" stroke-width="2"/></g>
<circle cx="1138" cy="1165" r="76.2" fill="#ff0418" opacity=".5" filter="url(#g4)"/><g transform="translate(1138 1165)" fill="none" stroke-linecap="round"><circle r="71.8" fill="#46000b" stroke="none"/><path d="M-51.8 -51.8L51.8 51.8M-51.8 51.8L51.8 -51.8M0 -70.3V70.3M-70.3 0H70.3" stroke="#c4081a" stroke-width="2.6"/><circle cx="18.5" cy="18.5" r="22.2" stroke="#e00a1e" stroke-width="6"/><circle cx="12.6" cy="12.6" r="37" stroke="#e00a1e" stroke-width="7"/><circle cx="6.7" cy="6.7" r="51.8" stroke="#e00a1e" stroke-width="8"/><circle cx="0" cy="0" r="65.5" stroke="#e00a1e" stroke-width="17"/><path d="M41.9 19.7h0M38.1 23.2h0M39.6 30.3h0M33.8 33.1h0M31.8 37.2h0M28.2 39h0M20 39.1h0M14.8 40.8h0M11.4 39.7h0M6.7 36.1h0M2.5 33.5h0M-1.3 26.9h0M-2.3 23.4h0M-2.9 17.8h0M-4.6 13.9h0M0 8.3h0M2.3 4.1h0M7.6 0.8h0M12.6 -1.1h0M15.4 -4.7h0M20.1 -4.3h0M25.4 -2.5h0M33.7 -0.3h0M33.9 5h0M39.6 7.9h0M37.9 12h0M48 11.9h0M49.7 19.6h0M49.4 24h0M45.8 28.3h0M42.1 31.4h0M38.4 36.1h0M36.4 41.8h0M32.8 42.2h0M29.1 44.5h0M22.2 48.6h0M16.4 50.5h0M13.7 49h0M6.4 51.2h0M1.1 47h0M-2.6 45h0M-8.4 42h0M-10.8 38.4h0M-16.4 38.2h0M-17.9 34h0M-19.5 26.3h0M-23.5 24.1h0M-24.7 19.7h0M-23.1 13.1h0M-23.5 5.6h0M-21.6 4.2h0M-20.5 -0.6h0M-17.1 -8.4h0M-15.1 -10.6h0M-12 -14.6h0M-5.3 -16.9h0M-1.4 -20.7h0M1.3 -22.1h0M7.3 -22.4h0M14.5 -26.5h0M16.2 -24.1h0M22.4 -21.9h0M28.9 -21.9h0M31.5 -17.4h0M34.1 -14.5h0M40.2 -13.7h0M46.4 -7.7h0M46.8 -1.6h0M45.8 1.1h0M50.4 9h0M61.4 5.9h0M57.2 12.9h0M58.3 16.3h0M56.9 22.1h0M54.5 25.6h0M50.9 30.3h0M47.6 35.8h0M44.3 40.1h0M40.8 44.2h0M41 49h0M31.9 48.8h0M29.3 50.9h0M26 54.6h0M19.9 54.4h0M13.1 60h0M7.8 57.9h0M5.7 59.4h0M-2.1 58.8h0M-5.8 59.5h0M-12 53.2h0M-17.7 54h0M-18.8 48.7h0M-24.4 45.7h0M-28.3 41h0M-32 37.8h0M-37.4 38.7h0M-40 32.1h0M-39.3 26.1h0M-40.8 21h0M-45 16.2h0M-44.4 12.3h0M-43.7 7h0M-45.3 0.5h0M-42.9 -2.4h0M-42.7 -9.2h0M-41.2 -12.6h0M-40.5 -21.2h0M-37.1 -25.2h0M-31.7 -27.3h0M-29.4 -30.8h0M-24.3 -33.3h0M-21.1 -38h0M-17.3 -39.7h0M-10.6 -39.6h0M-6.6 -44h0M-1.2 -45.3h0M3.1 -46.8h0M8.5 -43.5h0M16.2 -46.5h0M21.6 -44.4h0M22.2 -39.9h0M29.6 -38.8h0M32.4 -35.5h0M36.7 -33.8h0M45.2 -32.1h0M45.4 -25.3h0M49.5 -22.9h0M53.4 -21.3h0M55.8 -16.2h0M56.7 -7.6h0M60 -3.2h0M55.6 0h0M63.9 0.2h0M64.6 1.5h0M58 3.3h0M64.2 5.7h0M70.8 8.5h0M63 9.5h0M70.4 13.1h0M57.6 13.1h0M64.3 15.9h0M59.6 17.4h0M56.8 19h0M58.9 21.9h0M59.8 23.3h0M65.5 28.4h0M59.2 27.3h0M62.9 32.6h0M55.6 30.4h0M52.6 31.6h0M57.3 37.1h0M49 32.9h0M57.2 42.3h0M51.6 40.3h0M55.9 46.3h0M49.7 43.6h0M42.9 40.6h0M42 41.6h0M43.2 45.5h0M40.2 45h0M43.4 52.6h0M42 54.1h0M34.5 47.2h0M39.4 59.6h0M35.2 56.3h0M31.2 54.5h0M35.1 63.3h0M32.3 64.6h0M24.9 54.7h0M27.4 62.6h0M26.9 67.1h0M21.2 60h0M21.2 68.5h0M19.8 68.7h0M16.5 65.7h0M15.8 70.5h0M11.7 61.8h0M8.4 59.7h0M8.9 71.3h0M5.8 63.1h0M3.7 68.6h0M2.2 69h0M-1.2 67.9h0M-3.4 66.8h0M-3.7 61.8h0M-7.7 71h0M-9 68.4h0M-9.5 61.1h0M-12.6 61.1h0M-16.3 71h0M-17.6 68.2h0M-18.1 60.7h0M-21.3 64.1h0M-21.7 60.2h0M-25.2 63h0M-27.3 60.3h0M-31.8 65.7h0M-29.9 57.5h0M-34.9 62.3h0M-30.7 50.8h0M-34.5 52.2h0M-38 55.8h0M-36.5 49.7h0M-40.6 51.4h0M-45.4 54.4h0M-39.8 43.9h0M-50 52h0M-46.9 46.5h0M-46.6 43.5h0M-46.8 41.1h0M-49.9 39.4h0M-46.3 35.7h0M-56.1 39h0M-49.9 33.1h0M-57.5 36.1h0M-55 31.4h0M-55 29.9h0M-55.8 26.9h0M-62.6 29h0M-55.1 22.3h0M-63 24.3h0M-56.2 19.9h0M-55.7 17.8h0M-69.9 18.7h0M-69.2 16.1h0M-70.3 14.9h0M-67.3 11.3h0M-57.8 8.8h0M-68.2 8.2h0M-61.1 5.4h0M-59.3 2.6h0M-67.8 1.2h0M-71.5 -1.7h0M-58.5 -2.7h0M-69.1 -5.2h0M-72.4 -8.5h0M-62 -8.7h0M-68.1 -11.7h0M-58 -12.1h0M-70 -16.7h0M-58 -15.5h0M-60.3 -19.4h0M-61.3 -20.9h0M-56.3 -21.5h0M-66.9 -28h0M-52.7 -24.6h0M-64.2 -32.4h0M-58 -30.1h0M-58.2 -33.9h0M-53.9 -33.5h0M-53.4 -35.3h0M-57 -40.1h0M-54.6 -40.6h0M-50 -40.3h0M-50.9 -43.6h0M-46.1 -43.1h0M-47.2 -46.9h0M-40.8 -42.8h0M-39.3 -44.1h0M-38.5 -45.6h0M-45.4 -56.2h0M-38.7 -52.1h0M-40 -58.1h0M-35.2 -53.3h0M-30.2 -50.5h0M-30 -52.8h0M-33.3 -63.7h0M-30.2 -62.8h0M-29.9 -66h0M-26 -63.1h0M-23.3 -62.7h0M-22.4 -68.3h0M-16.7 -57h0M-16.4 -61.6h0M-16 -66.2h0M-12 -62.6h0M-12.6 -71.3h0M-8.7 -63.7h0M-6.6 -68.1h0M-5.4 -69.7h0M-2.5 -58.6h0M-0.5 -66.5h0M2 -68.7h0M3.4 -72.2h0M6 -70.9h0M9 -70.1h0M9.3 -62.9h0M11.2 -58.3h0M13.3 -59.5h0M17 -71h0M18.3 -63.1h0M20.5 -64.8h0M19.8 -54.7h0M26.2 -65.8h0M25.2 -58.7h0M26.4 -58.5h0M28.2 -55.2h0M28.5 -53.4h0M32 -54.6h0M38.1 -61.4h0M41 -59.5h0M37 -51.4h0M40.1 -51.1h0M41.7 -50.4h0M42.5 -48.5h0M40.7 -44.3h0M46.9 -47.2h0M47.3 -43.8h0M52.4 -47.3h0M45.1 -37.4h0M56.5 -44h0M50.6 -36.5h0M53.5 -36.6h0M51.3 -32.4h0M50.4 -29.9h0M50.7 -28.5h0M54.6 -27.3h0M60.3 -29.3h0M63.8 -27.8h0M56.3 -21.8h0M66.1 -24.6h0M57.4 -18.2h0M59.3 -17.6h0M64.4 -16.5h0M70 -15.6h0M62.2 -11.5h0M69.3 -10.5h0M69.5 -8.6h0M59.1 -5.8h0M63.9 -4.3h0M63.3 -2.3h0" stroke="#ff6e6e" stroke-width="3.8"/><path d="M41.9 19.7h0M38.1 23.2h0M39.6 30.3h0M31.8 37.2h0M28.2 39h0M20 39.1h0M14.8 40.8h0M6.7 36.1h0M2.5 33.5h0M-1.3 26.9h0M-2.3 23.4h0M0 8.3h0M7.6 0.8h0M15.4 -4.7h0M20.1 -4.3h0M25.4 -2.5h0M33.7 -0.3h0M33.9 5h0M39.6 7.9h0M37.9 12h0M48 11.9h0M49.4 24h0M42.1 31.4h0M38.4 36.1h0M36.4 41.8h0M32.8 42.2h0M22.2 48.6h0M16.4 50.5h0M13.7 49h0M6.4 51.2h0M1.1 47h0M-2.6 45h0M-8.4 42h0M-16.4 38.2h0M-17.9 34h0M-19.5 26.3h0M-23.1 13.1h0M-23.5 5.6h0M-21.6 4.2h0M-20.5 -0.6h0M-17.1 -8.4h0M-15.1 -10.6h0M-12 -14.6h0M-5.3 -16.9h0M-1.4 -20.7h0M14.5 -26.5h0M16.2 -24.1h0M28.9 -21.9h0M46.8 -1.6h0M50.4 9h0M61.4 5.9h0M57.2 12.9h0M58.3 16.3h0M56.9 22.1h0M54.5 25.6h0M44.3 40.1h0M41 49h0M31.9 48.8h0M29.3 50.9h0M26 54.6h0M19.9 54.4h0M7.8 57.9h0M5.7 59.4h0M-2.1 58.8h0M-5.8 59.5h0M-12 53.2h0M-17.7 54h0M-18.8 48.7h0M-32 37.8h0M-37.4 38.7h0M-40 32.1h0M-39.3 26.1h0M-40.8 21h0M-45 16.2h0M-44.4 12.3h0M-45.3 0.5h0M-42.9 -2.4h0M-42.7 -9.2h0M-41.2 -12.6h0M-37.1 -25.2h0M-29.4 -30.8h0M-24.3 -33.3h0M-21.1 -38h0M-1.2 -45.3h0M8.5 -43.5h0M21.6 -44.4h0M22.2 -39.9h0M29.6 -38.8h0M32.4 -35.5h0M36.7 -33.8h0M45.2 -32.1h0M45.4 -25.3h0M49.5 -22.9h0M53.4 -21.3h0M56.7 -7.6h0M60 -3.2h0M55.6 0h0M63.9 0.2h0M64.6 1.5h0M58 3.3h0M63 9.5h0M70.4 13.1h0M57.6 13.1h0M64.3 15.9h0M59.6 17.4h0M56.8 19h0M59.8 23.3h0M65.5 28.4h0M62.9 32.6h0M52.6 31.6h0M57.3 37.1h0M49 32.9h0M57.2 42.3h0M51.6 40.3h0M55.9 46.3h0M49.7 43.6h0M42.9 40.6h0M42 41.6h0M43.4 52.6h0M42 54.1h0M34.5 47.2h0M39.4 59.6h0M35.2 56.3h0M31.2 54.5h0M32.3 64.6h0M21.2 68.5h0M19.8 68.7h0M16.5 65.7h0M8.4 59.7h0M8.9 71.3h0M3.7 68.6h0M2.2 69h0M-1.2 67.9h0M-3.4 66.8h0M-7.7 71h0M-9 68.4h0M-17.6 68.2h0M-18.1 60.7h0M-21.3 64.1h0M-21.7 60.2h0M-29.9 57.5h0M-34.9 62.3h0M-30.7 50.8h0M-34.5 52.2h0M-36.5 49.7h0M-45.4 54.4h0M-50 52h0M-46.9 46.5h0M-46.8 41.1h0M-49.9 39.4h0M-56.1 39h0M-49.9 33.1h0M-57.5 36.1h0M-55.8 26.9h0M-62.6 29h0M-55.1 22.3h0M-63 24.3h0M-56.2 19.9h0M-55.7 17.8h0M-70.3 14.9h0M-67.3 11.3h0M-57.8 8.8h0M-68.2 8.2h0M-61.1 5.4h0M-71.5 -1.7h0M-69.1 -5.2h0M-72.4 -8.5h0M-62 -8.7h0M-68.1 -11.7h0M-58 -12.1h0M-70 -16.7h0M-60.3 -19.4h0M-61.3 -20.9h0M-66.9 -28h0M-64.2 -32.4h0M-58 -30.1h0M-53.4 -35.3h0M-57 -40.1h0M-54.6 -40.6h0M-50 -40.3h0M-50.9 -43.6h0M-46.1 -43.1h0M-47.2 -46.9h0M-40.8 -42.8h0M-39.3 -44.1h0M-38.7 -52.1h0M-40 -58.1h0M-35.2 -53.3h0M-30.2 -50.5h0M-30 -52.8h0M-30.2 -62.8h0M-29.9 -66h0M-26 -63.1h0M-23.3 -62.7h0M-22.4 -68.3h0M-16.7 -57h0M-16.4 -61.6h0M-16 -66.2h0M-12 -62.6h0M-12.6 -71.3h0M-8.7 -63.7h0M-6.6 -68.1h0M-5.4 -69.7h0M-2.5 -58.6h0M2 -68.7h0M6 -70.9h0M9 -70.1h0M11.2 -58.3h0M18.3 -63.1h0M20.5 -64.8h0M19.8 -54.7h0M26.2 -65.8h0M26.4 -58.5h0M28.5 -53.4h0M32 -54.6h0M38.1 -61.4h0M41 -59.5h0M40.1 -51.1h0M41.7 -50.4h0M42.5 -48.5h0M40.7 -44.3h0M46.9 -47.2h0M52.4 -47.3h0M51.3 -32.4h0M50.4 -29.9h0M54.6 -27.3h0M60.3 -29.3h0M63.8 -27.8h0M66.1 -24.6h0M57.4 -18.2h0M59.3 -17.6h0M64.4 -16.5h0M59.1 -5.8h0M63.3 -2.3h0" stroke="#ffe9e9" stroke-width="2"/></g>
<rect x="113.5" y="113" width="962" height="962" rx="53" fill="#f44336"/>
<rect x="158.5" y="151.5" width="882.5" height="886.8" fill="#f6f6f6"/>
<rect x="1037.6" y="151.5" width="3.4" height="886.8" fill="#dde5ec"/>
<rect x="206" y="206" width="776" height="778" fill="#d32a1a"/>
<path d="M198 159Q206 152.2 232 152H370Q396 152.2 404 159Z" fill="#d32a1a"/>
<path d="M189 460Q198 453.5 207 450.4L207 455Z" fill="#d32a1a"/>
<rect x="222" y="1030" width="180" height="7.6" fill="#d32a1a"/>
<path d="M513.6 741L688 741A59 59 0 0 1 747 800L747 981.5A59 59 0 0 1 688 1040.5L513.6 1040.5A63 63 0 0 1 450.6 977.5L450.6 804A63 63 0 0 1 513.6 741Z" fill="#d32a1a"/>
<path d="M219 450.7H400V456H206Q213 451.5 219 450.7Z" fill="#b9d4f1"/>
<rect x="451" y="507" width="6" height="172" fill="#b9d4f1"/>
<path d="M518.5 743.5L681 743.5A63 63 0 0 1 744 806.5L744 974.3A63 63 0 0 1 681 1037.3L518.5 1037.3A67 67 0 0 1 451.5 970.3L451.5 810.5A67 67 0 0 1 518.5 743.5Z" fill="#b9d4f1"/>
<path d="M506.8 152L688 152A56 56 0 0 1 744 208L744 389.2A57 57 0 0 1 687 446.2L504.8 446.2A54 54 0 0 1 450.8 392.2L450.8 208A56 56 0 0 1 506.8 152Z" fill="#c8e6c9"/>
<path d="M799 152L985.5 152A52 52 0 0 1 1037.5 204L1037.5 390A56 56 0 0 1 981.5 446L800 446A57 57 0 0 1 743 389L743 208A56 56 0 0 1 799 152Z" fill="#c8e6c9"/>
<path d="M221.5 155L395.6 155A57 57 0 0 1 452.6 212L452.6 398.2A52 52 0 0 1 400.6 450.2L218.5 450.2A60 60 0 0 1 158.5 390.2L158.5 218A63 63 0 0 1 221.5 155Z" fill="#c8e6c9"/>
<path d="M801.3 446.3L982 446.3A56 56 0 0 1 1038 502.3L1038 684.9A56 56 0 0 1 982 740.9L797.3 740.9A52 52 0 0 1 745.3 688.9L745.3 502.3A56 56 0 0 1 801.3 446.3Z" fill="#c8e6c9"/>
<path d="M511 446.4L690.8 446.4A56 56 0 0 1 746.8 502.4L746.8 688.9A52 52 0 0 1 694.8 740.9L514 740.9A61 61 0 0 1 453 679.9L453 504.4A58 58 0 0 1 511 446.4Z" fill="#c8e6c9"/>
<path d="M217 453.2L395.5 453.2A52 52 0 0 1 447.5 505.2L447.5 693.9A52 52 0 0 1 395.5 745.9L210 745.9A57 57 0 0 1 153 688.9L153 517.2A64 64 0 0 1 217 453.2Z" fill="#c8e6c9"/>
<path d="M797.9 742.6L982 742.6A56 56 0 0 1 1038 798.6L1038 980.7A56 56 0 0 1 982 1036.7L801.9 1036.7A56 56 0 0 1 745.9 980.7L745.9 794.6A52 52 0 0 1 797.9 742.6Z" fill="#c8e6c9"/>
<path d="M211 742.9L397.2 742.9A52 52 0 0 1 449.2 794.9L449.2 975A60 60 0 0 1 389.2 1035L217 1035A62 62 0 0 1 155 973L155 798.9A56 56 0 0 1 211 742.9Z" fill="#c8e6c9"/>
<path d="M515 747.9L691.5 747.9A56 56 0 0 1 747.5 803.9L747.5 985.7A56 56 0 0 1 691.5 1041.7L515 1041.7A60 60 0 0 1 455 981.7L455 807.9A60 60 0 0 1 515 747.9Z" fill="#c8e6c9"/>
<text x="216.1" y="230.5" textLength="173.3" lengthAdjust="spacingAndGlyphs">Юго-Восток</text>
<text x="247.6" y="271.9" textLength="108" lengthAdjust="spacingAndGlyphs">Деньги</text>
<text x="182.4" y="313.3" textLength="239.6" lengthAdjust="spacingAndGlyphs">Сандал, ваниль,</text>
<text x="245.4" y="354.8" textLength="113.6" lengthAdjust="spacingAndGlyphs">корица,</text>
<text x="231.9" y="396.2" textLength="139.5" lengthAdjust="spacingAndGlyphs">апельсин</text>
<text x="584.3" y="247.4" textLength="40.5" lengthAdjust="spacingAndGlyphs">Юг</text>
<text x="557.7" y="288.9" textLength="90" lengthAdjust="spacingAndGlyphs">Слава</text>
<text x="477.4" y="330.3" textLength="250.4" lengthAdjust="spacingAndGlyphs">Лавр, грейпфрут,</text>
<text x="542.6" y="371.8" textLength="121.5" lengthAdjust="spacingAndGlyphs">кипарис</text>
<text x="812.9" y="246.7" textLength="158.6" lengthAdjust="spacingAndGlyphs">Юго-Запад</text>
<text x="832" y="288.4" textLength="116.6" lengthAdjust="spacingAndGlyphs">Любовь</text>
<text x="787" y="329.9" textLength="209.3" lengthAdjust="spacingAndGlyphs">Роза, жасмин,</text>
<text x="840.6" y="371.6" textLength="100.6" lengthAdjust="spacingAndGlyphs">пачули</text>
<text x="251.5" y="521" textLength="104.8" lengthAdjust="spacingAndGlyphs">Восток</text>
<text x="252.1" y="562.3" textLength="102.8" lengthAdjust="spacingAndGlyphs">Семья,</text>
<text x="194.3" y="603.8" textLength="218.7" lengthAdjust="spacingAndGlyphs">Мирт, розовое</text>
<text x="246.5" y="645.4" textLength="112.5" lengthAdjust="spacingAndGlyphs">дерево,</text>
<text x="187.6" y="687" textLength="232.2" lengthAdjust="spacingAndGlyphs">можжевельник</text>
<text x="550.5" y="542.6" textLength="90" lengthAdjust="spacingAndGlyphs">Центр</text>
<text x="523" y="584.5" textLength="143.3" lengthAdjust="spacingAndGlyphs">Здоровье</text>
<text x="505" y="626.4" textLength="179.3" lengthAdjust="spacingAndGlyphs">Пихта, кедр,</text>
<text x="501" y="668" textLength="187.9" lengthAdjust="spacingAndGlyphs">лотос, сосна</text>
<text x="847.3" y="522.8" textLength="91.6" lengthAdjust="spacingAndGlyphs">Запад</text>
<text x="855.6" y="564.6" textLength="73.1" lengthAdjust="spacingAndGlyphs">Дети</text>
<text x="809" y="606.3" textLength="169.2" lengthAdjust="spacingAndGlyphs">творчество</text>
<text x="820.8" y="647.8" textLength="145.1" lengthAdjust="spacingAndGlyphs">Ромашка,</text>
<text x="829.8" y="689" textLength="124.9" lengthAdjust="spacingAndGlyphs">лаванда</text>
<text x="191.4" y="801.6" textLength="221.6" lengthAdjust="spacingAndGlyphs">Северо-восток</text>
<text x="225.1" y="843" textLength="153" lengthAdjust="spacingAndGlyphs">Мудрость,</text>
<text x="249.2" y="884.7" textLength="106.4" lengthAdjust="spacingAndGlyphs">знания</text>
<text x="243.1" y="926.2" textLength="118.1" lengthAdjust="spacingAndGlyphs">Тимьян,</text>
<text x="181.3" y="967.8" textLength="241.9" lengthAdjust="spacingAndGlyphs">розмарин, мята,</text>
<text x="234.1" y="1009.6" textLength="136.1" lengthAdjust="spacingAndGlyphs">гвоздика</text>
<text x="550.5" y="821.9" textLength="89.6" lengthAdjust="spacingAndGlyphs">Север</text>
<text x="533.6" y="863.7" textLength="123.8" lengthAdjust="spacingAndGlyphs">Карьера</text>
<text x="541.5" y="905.4" textLength="105.8" lengthAdjust="spacingAndGlyphs">Лимон,</text>
<text x="502.8" y="947" textLength="183.8" lengthAdjust="spacingAndGlyphs">лемонграсс,</text>
<text x="533.6" y="988.6" textLength="123.8" lengthAdjust="spacingAndGlyphs">базилик</text>
<text x="778.5" y="816.7" textLength="206.6" lengthAdjust="spacingAndGlyphs">Северо-запад</text>
<text x="788.8" y="859" textLength="185" lengthAdjust="spacingAndGlyphs">Помощники,</text>
<text x="785.9" y="901.5" textLength="191.9" lengthAdjust="spacingAndGlyphs">путешествия</text>
<text x="775.3" y="943.5" textLength="213.8" lengthAdjust="spacingAndGlyphs">Жасмин, роза,</text>
<text x="828.6" y="985.3" textLength="106.4" lengthAdjust="spacingAndGlyphs">корица</text>
</svg></body></html>
